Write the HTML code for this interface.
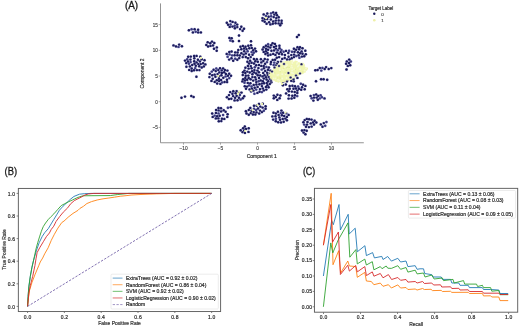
<!DOCTYPE html>
<html><head><meta charset="utf-8"><style>
html,body{margin:0;padding:0;background:#fff;width:520px;height:327px;overflow:hidden}
svg{display:block}
text{font-family:"Liberation Sans",sans-serif}
.t{fill:#262626;stroke:#262626;stroke-width:0.18px}
.L{fill:#1a1a1a;stroke:#1a1a1a;stroke-width:0.3px}
.tk{letter-spacing:0.2px}
.ta{fill:#404040;stroke:#404040;stroke-width:0.14px}
.ta2{fill:#2e2e2e;stroke:#2e2e2e;stroke-width:0.18px}
</style></head><body>
<svg width="520" height="327" viewBox="0 0 520 327">
<defs><filter id="bl" x="-5%" y="-5%" width="110%" height="110%"><feGaussianBlur stdDeviation="0.35"/></filter></defs>
<rect width="520" height="327" fill="#fff"/>
<g filter="url(#bl)">
<text x="124.9" y="9" font-size="10" class="L" textLength="13.2" lengthAdjust="spacingAndGlyphs">(A)</text>
<line x1="160.5" y1="3.4" x2="160.5" y2="142.8" stroke="#939393" stroke-width="1.05"/>
<line x1="160.5" y1="142.8" x2="363.8" y2="142.8" stroke="#939393" stroke-width="1.05"/>
<line x1="158.6" y1="24.60" x2="160.6" y2="24.60" stroke="#777" stroke-width="0.6"/>
<text x="157.9" y="26.60" font-size="4.6" class="ta" text-anchor="end">15</text>
<line x1="158.6" y1="50.30" x2="160.6" y2="50.30" stroke="#777" stroke-width="0.6"/>
<text x="157.9" y="52.30" font-size="4.6" class="ta" text-anchor="end">10</text>
<line x1="158.6" y1="76.00" x2="160.6" y2="76.00" stroke="#777" stroke-width="0.6"/>
<text x="157.9" y="78.00" font-size="4.6" class="ta" text-anchor="end">5</text>
<line x1="158.6" y1="101.70" x2="160.6" y2="101.70" stroke="#777" stroke-width="0.6"/>
<text x="157.9" y="103.70" font-size="4.6" class="ta" text-anchor="end">0</text>
<line x1="158.6" y1="127.40" x2="160.6" y2="127.40" stroke="#777" stroke-width="0.6"/>
<text x="157.9" y="129.40" font-size="4.6" class="ta" text-anchor="end">−5</text>
<line x1="183.50" y1="142.7" x2="183.50" y2="144.7" stroke="#777" stroke-width="0.6"/>
<text x="183.50" y="149.8" font-size="4.8" class="ta" text-anchor="middle">−10</text>
<line x1="220.50" y1="142.7" x2="220.50" y2="144.7" stroke="#777" stroke-width="0.6"/>
<text x="220.50" y="149.8" font-size="4.8" class="ta" text-anchor="middle">−5</text>
<line x1="257.50" y1="142.7" x2="257.50" y2="144.7" stroke="#777" stroke-width="0.6"/>
<text x="257.50" y="149.8" font-size="4.8" class="ta" text-anchor="middle">0</text>
<line x1="294.50" y1="142.7" x2="294.50" y2="144.7" stroke="#777" stroke-width="0.6"/>
<text x="294.50" y="149.8" font-size="4.8" class="ta" text-anchor="middle">5</text>
<line x1="331.50" y1="142.7" x2="331.50" y2="144.7" stroke="#777" stroke-width="0.6"/>
<text x="331.50" y="149.8" font-size="4.8" class="ta" text-anchor="middle">10</text>
<text x="261.7" y="158.2" font-size="5" class="ta2" text-anchor="middle">Component 1</text>
<text transform="translate(143.7,73.4) rotate(-90)" x="0" y="0" font-size="5" class="ta2" text-anchor="middle">Component 2</text>
<text x="368.6" y="9.6" font-size="4.5" class="ta2">Target Label</text>
<circle cx="374.3" cy="13.8" r="1.2" fill="#1b1b5c"/>
<text x="381.3" y="15.5" font-size="4.4" class="ta">0</text>
<circle cx="374.3" cy="20.2" r="1.3" fill="#eef0a8"/>
<text x="381.3" y="21.9" font-size="4.4" class="ta">1</text>
<g fill="#c4c4e4">
<circle cx="267.3" cy="13.5" r="1.6"/>
<circle cx="273.2" cy="12.4" r="1.6"/>
<circle cx="271.1" cy="16.3" r="1.6"/>
<circle cx="262.5" cy="18.1" r="1.6"/>
<circle cx="269.1" cy="22.2" r="1.6"/>
<circle cx="263.7" cy="14.4" r="1.6"/>
<circle cx="272.8" cy="23.8" r="1.6"/>
<circle cx="277.0" cy="15.3" r="1.6"/>
<circle cx="264.8" cy="19.1" r="1.6"/>
<circle cx="273.7" cy="17.1" r="1.6"/>
<circle cx="267.2" cy="19.1" r="1.6"/>
<circle cx="275.8" cy="20.6" r="1.6"/>
<circle cx="262.6" cy="20.6" r="1.6"/>
<circle cx="278.7" cy="20.5" r="1.6"/>
<circle cx="270.8" cy="19.5" r="1.6"/>
<circle cx="268.6" cy="16.7" r="1.6"/>
<circle cx="266.0" cy="16.0" r="1.6"/>
<circle cx="271.0" cy="13.4" r="1.6"/>
<circle cx="278.7" cy="17.3" r="1.6"/>
<circle cx="264.7" cy="21.8" r="1.6"/>
<circle cx="275.6" cy="23.2" r="1.6"/>
<circle cx="276.3" cy="18.1" r="1.6"/>
<circle cx="266.6" cy="23.7" r="1.6"/>
<circle cx="273.2" cy="21.4" r="1.6"/>
<circle cx="274.4" cy="14.6" r="1.6"/>
<circle cx="270.4" cy="24.4" r="1.6"/>
<circle cx="276.1" cy="12.9" r="1.6"/>
<circle cx="281.5" cy="23.3" r="1.6"/>
<circle cx="278.6" cy="23.4" r="1.6"/>
<circle cx="281.6" cy="20.7" r="1.6"/>
<circle cx="280.2" cy="25.3" r="1.6"/>
<circle cx="228.1" cy="24.8" r="1.6"/>
<circle cx="232.6" cy="21.9" r="1.6"/>
<circle cx="230.3" cy="21.1" r="1.6"/>
<circle cx="232.5" cy="26.6" r="1.6"/>
<circle cx="237.2" cy="24.6" r="1.6"/>
<circle cx="234.7" cy="25.7" r="1.6"/>
<circle cx="230.6" cy="24.5" r="1.6"/>
<circle cx="234.9" cy="28.3" r="1.6"/>
<circle cx="229.7" cy="26.9" r="1.6"/>
<circle cx="226.8" cy="22.8" r="1.6"/>
<circle cx="235.4" cy="22.7" r="1.6"/>
<circle cx="237.3" cy="27.1" r="1.6"/>
<circle cx="242.6" cy="30.8" r="1.6"/>
<circle cx="240.1" cy="29.1" r="1.6"/>
<circle cx="241.3" cy="26.7" r="1.6"/>
<circle cx="244.0" cy="28.7" r="1.6"/>
<circle cx="232.8" cy="41.2" r="1.6"/>
<circle cx="230.3" cy="40.5" r="1.6"/>
<circle cx="231.7" cy="38.3" r="1.6"/>
<circle cx="229.4" cy="37.9" r="1.6"/>
<circle cx="192.9" cy="32.4" r="1.6"/>
<circle cx="191.6" cy="29.2" r="1.6"/>
<circle cx="198.2" cy="32.4" r="1.6"/>
<circle cx="195.7" cy="31.8" r="1.6"/>
<circle cx="200.9" cy="32.4" r="1.6"/>
<circle cx="198.1" cy="29.8" r="1.6"/>
<circle cx="194.6" cy="29.2" r="1.6"/>
<circle cx="188.9" cy="30.3" r="1.6"/>
<circle cx="176.0" cy="46.4" r="1.6"/>
<circle cx="173.5" cy="45.4" r="1.6"/>
<circle cx="181.9" cy="46.2" r="1.6"/>
<circle cx="178.5" cy="46.9" r="1.6"/>
<circle cx="179.2" cy="44.6" r="1.6"/>
<circle cx="210.2" cy="43.2" r="1.6"/>
<circle cx="210.5" cy="45.9" r="1.6"/>
<circle cx="213.0" cy="45.4" r="1.6"/>
<circle cx="214.3" cy="43.0" r="1.6"/>
<circle cx="207.7" cy="42.3" r="1.6"/>
<circle cx="212.0" cy="41.6" r="1.6"/>
<circle cx="206.3" cy="44.9" r="1.6"/>
<circle cx="208.1" cy="46.5" r="1.6"/>
<circle cx="216.7" cy="50.7" r="1.6"/>
<circle cx="216.8" cy="47.4" r="1.6"/>
<circle cx="214.0" cy="48.7" r="1.6"/>
<circle cx="194.2" cy="61.2" r="1.6"/>
<circle cx="192.2" cy="65.0" r="1.6"/>
<circle cx="196.6" cy="55.9" r="1.6"/>
<circle cx="194.0" cy="70.2" r="1.6"/>
<circle cx="204.5" cy="60.2" r="1.6"/>
<circle cx="190.6" cy="62.1" r="1.6"/>
<circle cx="198.3" cy="64.1" r="1.6"/>
<circle cx="186.4" cy="66.8" r="1.6"/>
<circle cx="194.1" cy="55.9" r="1.6"/>
<circle cx="199.4" cy="70.1" r="1.6"/>
<circle cx="190.8" cy="56.6" r="1.6"/>
<circle cx="201.7" cy="67.5" r="1.6"/>
<circle cx="189.9" cy="66.4" r="1.6"/>
<circle cx="197.9" cy="59.7" r="1.6"/>
<circle cx="187.2" cy="59.2" r="1.6"/>
<circle cx="195.8" cy="65.8" r="1.6"/>
<circle cx="186.2" cy="63.1" r="1.6"/>
<circle cx="190.4" cy="59.6" r="1.6"/>
<circle cx="203.1" cy="63.3" r="1.6"/>
<circle cx="196.9" cy="70.1" r="1.6"/>
<circle cx="194.5" cy="63.7" r="1.6"/>
<circle cx="199.2" cy="66.3" r="1.6"/>
<circle cx="201.7" cy="59.3" r="1.6"/>
<circle cx="199.9" cy="61.4" r="1.6"/>
<circle cx="189.2" cy="69.9" r="1.6"/>
<circle cx="200.3" cy="56.7" r="1.6"/>
<circle cx="203.8" cy="66.4" r="1.6"/>
<circle cx="188.9" cy="63.8" r="1.6"/>
<circle cx="196.6" cy="62.4" r="1.6"/>
<circle cx="200.7" cy="64.1" r="1.6"/>
<circle cx="194.3" cy="58.3" r="1.6"/>
<circle cx="191.7" cy="68.5" r="1.6"/>
<circle cx="205.4" cy="64.4" r="1.6"/>
<circle cx="195.2" cy="68.1" r="1.6"/>
<circle cx="188.0" cy="61.5" r="1.6"/>
<circle cx="185.0" cy="60.6" r="1.6"/>
<circle cx="188.2" cy="56.8" r="1.6"/>
<circle cx="191.7" cy="71.0" r="1.6"/>
<circle cx="211.8" cy="71.6" r="1.6"/>
<circle cx="229.2" cy="73.7" r="1.6"/>
<circle cx="222.2" cy="82.4" r="1.6"/>
<circle cx="218.9" cy="78.7" r="1.6"/>
<circle cx="221.9" cy="72.9" r="1.6"/>
<circle cx="217.2" cy="83.5" r="1.6"/>
<circle cx="221.7" cy="70.4" r="1.6"/>
<circle cx="215.8" cy="71.1" r="1.6"/>
<circle cx="229.3" cy="78.1" r="1.6"/>
<circle cx="221.4" cy="75.3" r="1.6"/>
<circle cx="216.8" cy="80.3" r="1.6"/>
<circle cx="227.0" cy="79.7" r="1.6"/>
<circle cx="214.7" cy="81.9" r="1.6"/>
<circle cx="223.3" cy="77.8" r="1.6"/>
<circle cx="214.6" cy="74.6" r="1.6"/>
<circle cx="209.4" cy="77.1" r="1.6"/>
<circle cx="225.9" cy="73.9" r="1.6"/>
<circle cx="231.0" cy="75.8" r="1.6"/>
<circle cx="209.8" cy="73.8" r="1.6"/>
<circle cx="218.3" cy="70.1" r="1.6"/>
<circle cx="211.5" cy="80.9" r="1.6"/>
<circle cx="224.9" cy="70.0" r="1.6"/>
<circle cx="212.2" cy="75.2" r="1.6"/>
<circle cx="225.6" cy="76.4" r="1.6"/>
<circle cx="219.0" cy="76.2" r="1.6"/>
<circle cx="212.7" cy="78.8" r="1.6"/>
<circle cx="217.6" cy="74.1" r="1.6"/>
<circle cx="215.4" cy="76.8" r="1.6"/>
<circle cx="224.6" cy="82.0" r="1.6"/>
<circle cx="227.4" cy="70.6" r="1.6"/>
<circle cx="219.4" cy="72.4" r="1.6"/>
<circle cx="219.1" cy="81.1" r="1.6"/>
<circle cx="213.6" cy="69.8" r="1.6"/>
<circle cx="221.1" cy="80.0" r="1.6"/>
<circle cx="227.9" cy="75.7" r="1.6"/>
<circle cx="216.3" cy="68.5" r="1.6"/>
<circle cx="220.4" cy="83.9" r="1.6"/>
<circle cx="223.1" cy="68.4" r="1.6"/>
<circle cx="227.1" cy="82.1" r="1.6"/>
<circle cx="224.2" cy="72.3" r="1.6"/>
<circle cx="220.0" cy="68.3" r="1.6"/>
<circle cx="235.2" cy="52.4" r="1.6"/>
<circle cx="235.2" cy="58.7" r="1.6"/>
<circle cx="229.2" cy="59.6" r="1.6"/>
<circle cx="227.6" cy="56.8" r="1.6"/>
<circle cx="231.5" cy="58.3" r="1.6"/>
<circle cx="237.3" cy="59.8" r="1.6"/>
<circle cx="234.6" cy="55.3" r="1.6"/>
<circle cx="231.6" cy="51.5" r="1.6"/>
<circle cx="237.4" cy="55.2" r="1.6"/>
<circle cx="229.5" cy="54.4" r="1.6"/>
<circle cx="226.7" cy="53.9" r="1.6"/>
<circle cx="239.2" cy="58.1" r="1.6"/>
<circle cx="237.6" cy="52.5" r="1.6"/>
<circle cx="232.1" cy="55.4" r="1.6"/>
<circle cx="233.2" cy="60.7" r="1.6"/>
<circle cx="229.3" cy="52.0" r="1.6"/>
<circle cx="239.8" cy="55.5" r="1.6"/>
<circle cx="247.6" cy="51.2" r="1.6"/>
<circle cx="248.0" cy="58.3" r="1.6"/>
<circle cx="243.6" cy="54.6" r="1.6"/>
<circle cx="253.8" cy="52.8" r="1.6"/>
<circle cx="241.3" cy="49.2" r="1.6"/>
<circle cx="245.5" cy="46.7" r="1.6"/>
<circle cx="248.3" cy="45.7" r="1.6"/>
<circle cx="255.0" cy="48.6" r="1.6"/>
<circle cx="250.7" cy="57.1" r="1.6"/>
<circle cx="251.8" cy="47.9" r="1.6"/>
<circle cx="245.8" cy="57.0" r="1.6"/>
<circle cx="244.0" cy="48.5" r="1.6"/>
<circle cx="241.4" cy="53.2" r="1.6"/>
<circle cx="245.8" cy="53.4" r="1.6"/>
<circle cx="242.9" cy="45.9" r="1.6"/>
<circle cx="251.6" cy="52.1" r="1.6"/>
<circle cx="249.3" cy="48.2" r="1.6"/>
<circle cx="252.5" cy="54.7" r="1.6"/>
<circle cx="253.2" cy="50.3" r="1.6"/>
<circle cx="249.1" cy="54.7" r="1.6"/>
<circle cx="242.7" cy="57.1" r="1.6"/>
<circle cx="244.2" cy="51.2" r="1.6"/>
<circle cx="240.5" cy="46.7" r="1.6"/>
<circle cx="238.3" cy="50.0" r="1.6"/>
<circle cx="251.0" cy="45.3" r="1.6"/>
<circle cx="256.0" cy="51.3" r="1.6"/>
<circle cx="246.5" cy="49.1" r="1.6"/>
<circle cx="273.9" cy="47.0" r="1.6"/>
<circle cx="270.5" cy="54.7" r="1.6"/>
<circle cx="270.3" cy="47.6" r="1.6"/>
<circle cx="263.7" cy="51.9" r="1.6"/>
<circle cx="279.5" cy="48.2" r="1.6"/>
<circle cx="277.8" cy="50.2" r="1.6"/>
<circle cx="271.1" cy="45.2" r="1.6"/>
<circle cx="279.0" cy="53.8" r="1.6"/>
<circle cx="274.1" cy="50.4" r="1.6"/>
<circle cx="276.1" cy="46.1" r="1.6"/>
<circle cx="271.4" cy="50.8" r="1.6"/>
<circle cx="267.5" cy="53.0" r="1.6"/>
<circle cx="268.1" cy="44.2" r="1.6"/>
<circle cx="273.2" cy="53.9" r="1.6"/>
<circle cx="280.7" cy="52.1" r="1.6"/>
<circle cx="275.4" cy="54.9" r="1.6"/>
<circle cx="274.9" cy="43.9" r="1.6"/>
<circle cx="276.9" cy="52.6" r="1.6"/>
<circle cx="268.2" cy="46.6" r="1.6"/>
<circle cx="279.4" cy="45.7" r="1.6"/>
<circle cx="263.7" cy="47.2" r="1.6"/>
<circle cx="281.4" cy="49.9" r="1.6"/>
<circle cx="268.1" cy="49.8" r="1.6"/>
<circle cx="266.0" cy="48.7" r="1.6"/>
<circle cx="275.9" cy="48.6" r="1.6"/>
<circle cx="265.9" cy="45.7" r="1.6"/>
<circle cx="265.4" cy="54.0" r="1.6"/>
<circle cx="265.9" cy="51.2" r="1.6"/>
<circle cx="268.1" cy="55.4" r="1.6"/>
<circle cx="272.6" cy="43.3" r="1.6"/>
<circle cx="262.6" cy="49.5" r="1.6"/>
<circle cx="258.6" cy="81.3" r="1.6"/>
<circle cx="253.2" cy="80.6" r="1.6"/>
<circle cx="253.5" cy="90.6" r="1.6"/>
<circle cx="250.8" cy="66.1" r="1.6"/>
<circle cx="264.0" cy="83.3" r="1.6"/>
<circle cx="243.1" cy="79.2" r="1.6"/>
<circle cx="268.6" cy="87.3" r="1.6"/>
<circle cx="257.6" cy="86.9" r="1.6"/>
<circle cx="270.0" cy="73.4" r="1.6"/>
<circle cx="249.6" cy="89.4" r="1.6"/>
<circle cx="245.3" cy="78.0" r="1.6"/>
<circle cx="261.7" cy="69.6" r="1.6"/>
<circle cx="258.4" cy="68.1" r="1.6"/>
<circle cx="270.3" cy="76.7" r="1.6"/>
<circle cx="244.5" cy="70.6" r="1.6"/>
<circle cx="265.1" cy="63.8" r="1.6"/>
<circle cx="247.9" cy="65.9" r="1.6"/>
<circle cx="256.2" cy="73.5" r="1.6"/>
<circle cx="254.4" cy="70.1" r="1.6"/>
<circle cx="260.7" cy="80.4" r="1.6"/>
<circle cx="261.9" cy="86.1" r="1.6"/>
<circle cx="249.7" cy="72.5" r="1.6"/>
<circle cx="244.8" cy="86.2" r="1.6"/>
<circle cx="267.2" cy="72.8" r="1.6"/>
<circle cx="266.6" cy="79.5" r="1.6"/>
<circle cx="252.4" cy="77.1" r="1.6"/>
<circle cx="268.0" cy="69.7" r="1.6"/>
<circle cx="259.0" cy="78.0" r="1.6"/>
<circle cx="271.3" cy="82.2" r="1.6"/>
<circle cx="262.5" cy="76.4" r="1.6"/>
<circle cx="247.2" cy="79.7" r="1.6"/>
<circle cx="247.1" cy="86.6" r="1.6"/>
<circle cx="252.4" cy="74.3" r="1.6"/>
<circle cx="253.7" cy="84.9" r="1.6"/>
<circle cx="261.9" cy="92.1" r="1.6"/>
<circle cx="259.6" cy="91.7" r="1.6"/>
<circle cx="257.8" cy="61.8" r="1.6"/>
<circle cx="256.3" cy="82.1" r="1.6"/>
<circle cx="263.8" cy="78.6" r="1.6"/>
<circle cx="248.6" cy="68.6" r="1.6"/>
<circle cx="260.0" cy="89.1" r="1.6"/>
<circle cx="263.8" cy="90.4" r="1.6"/>
<circle cx="264.5" cy="75.2" r="1.6"/>
<circle cx="251.9" cy="88.7" r="1.6"/>
<circle cx="261.3" cy="65.9" r="1.6"/>
<circle cx="256.4" cy="84.5" r="1.6"/>
<circle cx="261.3" cy="62.4" r="1.6"/>
<circle cx="266.8" cy="82.9" r="1.6"/>
<circle cx="243.0" cy="72.3" r="1.6"/>
<circle cx="251.1" cy="91.4" r="1.6"/>
<circle cx="250.6" cy="79.2" r="1.6"/>
<circle cx="249.1" cy="85.4" r="1.6"/>
<circle cx="258.9" cy="72.3" r="1.6"/>
<circle cx="254.8" cy="67.3" r="1.6"/>
<circle cx="247.3" cy="71.6" r="1.6"/>
<circle cx="254.0" cy="63.5" r="1.6"/>
<circle cx="250.4" cy="83.3" r="1.6"/>
<circle cx="248.3" cy="75.6" r="1.6"/>
<circle cx="256.2" cy="89.6" r="1.6"/>
<circle cx="269.8" cy="84.0" r="1.6"/>
<circle cx="266.3" cy="89.6" r="1.6"/>
<circle cx="255.1" cy="77.2" r="1.6"/>
<circle cx="252.1" cy="71.2" r="1.6"/>
<circle cx="266.4" cy="66.9" r="1.6"/>
<circle cx="257.8" cy="75.3" r="1.6"/>
<circle cx="259.4" cy="84.3" r="1.6"/>
<circle cx="267.6" cy="75.1" r="1.6"/>
<circle cx="263.9" cy="68.3" r="1.6"/>
<circle cx="242.8" cy="75.0" r="1.6"/>
<circle cx="265.9" cy="86.9" r="1.6"/>
<circle cx="245.3" cy="73.0" r="1.6"/>
<circle cx="259.0" cy="65.0" r="1.6"/>
<circle cx="251.6" cy="68.3" r="1.6"/>
<circle cx="269.7" cy="78.9" r="1.6"/>
<circle cx="254.4" cy="93.7" r="1.6"/>
<circle cx="263.2" cy="72.9" r="1.6"/>
<circle cx="245.4" cy="67.7" r="1.6"/>
<circle cx="249.1" cy="63.5" r="1.6"/>
<circle cx="244.5" cy="82.7" r="1.6"/>
<circle cx="256.2" cy="65.2" r="1.6"/>
<circle cx="251.6" cy="62.7" r="1.6"/>
<circle cx="247.8" cy="82.9" r="1.6"/>
<circle cx="255.9" cy="79.5" r="1.6"/>
<circle cx="266.0" cy="77.3" r="1.6"/>
<circle cx="257.4" cy="92.9" r="1.6"/>
<circle cx="262.9" cy="81.3" r="1.6"/>
<circle cx="260.2" cy="75.5" r="1.6"/>
<circle cx="265.2" cy="70.9" r="1.6"/>
<circle cx="254.7" cy="87.7" r="1.6"/>
<circle cx="268.3" cy="81.2" r="1.6"/>
<circle cx="261.8" cy="83.6" r="1.6"/>
<circle cx="245.8" cy="75.7" r="1.6"/>
<circle cx="271.9" cy="78.8" r="1.6"/>
<circle cx="270.4" cy="70.6" r="1.6"/>
<circle cx="268.9" cy="67.5" r="1.6"/>
<circle cx="267.4" cy="85.2" r="1.6"/>
<circle cx="257.4" cy="70.6" r="1.6"/>
<circle cx="262.8" cy="88.4" r="1.6"/>
<circle cx="254.2" cy="72.4" r="1.6"/>
<circle cx="271.8" cy="74.8" r="1.6"/>
<circle cx="263.7" cy="65.9" r="1.6"/>
<circle cx="251.5" cy="86.5" r="1.6"/>
<circle cx="255.3" cy="61.3" r="1.6"/>
<circle cx="246.0" cy="88.7" r="1.6"/>
<circle cx="248.7" cy="77.9" r="1.6"/>
<circle cx="242.4" cy="81.4" r="1.6"/>
<circle cx="245.0" cy="80.4" r="1.6"/>
<circle cx="256.8" cy="59.2" r="1.6"/>
<circle cx="267.6" cy="59.6" r="1.6"/>
<circle cx="260.9" cy="59.2" r="1.6"/>
<circle cx="250.1" cy="60.8" r="1.6"/>
<circle cx="263.3" cy="61.0" r="1.6"/>
<circle cx="253.9" cy="59.0" r="1.6"/>
<circle cx="264.8" cy="59.0" r="1.6"/>
<circle cx="267.0" cy="62.1" r="1.6"/>
<circle cx="247.4" cy="61.8" r="1.6"/>
<circle cx="273.7" cy="65.0" r="1.6"/>
<circle cx="274.3" cy="62.6" r="1.6"/>
<circle cx="271.0" cy="61.9" r="1.6"/>
<circle cx="277.9" cy="61.9" r="1.6"/>
<circle cx="276.3" cy="65.1" r="1.6"/>
<circle cx="270.7" cy="64.1" r="1.6"/>
<circle cx="275.1" cy="59.7" r="1.6"/>
<circle cx="272.7" cy="59.9" r="1.6"/>
<circle cx="288.3" cy="53.0" r="1.6"/>
<circle cx="289.1" cy="50.8" r="1.6"/>
<circle cx="288.6" cy="56.8" r="1.6"/>
<circle cx="291.7" cy="58.3" r="1.6"/>
<circle cx="279.1" cy="57.1" r="1.6"/>
<circle cx="294.1" cy="54.6" r="1.6"/>
<circle cx="293.9" cy="57.1" r="1.6"/>
<circle cx="287.1" cy="59.5" r="1.6"/>
<circle cx="284.7" cy="58.0" r="1.6"/>
<circle cx="282.2" cy="58.9" r="1.6"/>
<circle cx="284.9" cy="55.0" r="1.6"/>
<circle cx="283.6" cy="51.7" r="1.6"/>
<circle cx="292.0" cy="51.8" r="1.6"/>
<circle cx="291.3" cy="55.1" r="1.6"/>
<circle cx="282.0" cy="54.3" r="1.6"/>
<circle cx="286.0" cy="50.9" r="1.6"/>
<circle cx="276.8" cy="57.7" r="1.6"/>
<circle cx="289.7" cy="59.5" r="1.6"/>
<circle cx="296.3" cy="56.0" r="1.6"/>
<circle cx="300.0" cy="47.2" r="1.6"/>
<circle cx="298.6" cy="55.3" r="1.6"/>
<circle cx="296.1" cy="49.7" r="1.6"/>
<circle cx="293.9" cy="48.7" r="1.6"/>
<circle cx="299.4" cy="57.7" r="1.6"/>
<circle cx="302.5" cy="53.7" r="1.6"/>
<circle cx="305.3" cy="50.7" r="1.6"/>
<circle cx="297.9" cy="52.2" r="1.6"/>
<circle cx="301.9" cy="56.6" r="1.6"/>
<circle cx="301.6" cy="51.4" r="1.6"/>
<circle cx="299.1" cy="49.3" r="1.6"/>
<circle cx="305.8" cy="54.3" r="1.6"/>
<circle cx="297.5" cy="47.2" r="1.6"/>
<circle cx="302.5" cy="48.3" r="1.6"/>
<circle cx="294.5" cy="51.8" r="1.6"/>
<circle cx="304.2" cy="56.3" r="1.6"/>
<circle cx="300.1" cy="53.3" r="1.6"/>
<circle cx="288.9" cy="95.3" r="1.6"/>
<circle cx="288.8" cy="91.2" r="1.6"/>
<circle cx="292.4" cy="85.8" r="1.6"/>
<circle cx="291.6" cy="98.5" r="1.6"/>
<circle cx="288.6" cy="98.6" r="1.6"/>
<circle cx="287.3" cy="89.3" r="1.6"/>
<circle cx="291.9" cy="91.6" r="1.6"/>
<circle cx="292.3" cy="95.8" r="1.6"/>
<circle cx="296.0" cy="88.5" r="1.6"/>
<circle cx="293.5" cy="88.7" r="1.6"/>
<circle cx="294.7" cy="92.0" r="1.6"/>
<circle cx="297.3" cy="93.0" r="1.6"/>
<circle cx="294.3" cy="97.7" r="1.6"/>
<circle cx="289.7" cy="88.7" r="1.6"/>
<circle cx="286.1" cy="93.4" r="1.6"/>
<circle cx="295.0" cy="95.2" r="1.6"/>
<circle cx="297.4" cy="90.6" r="1.6"/>
<circle cx="289.7" cy="86.0" r="1.6"/>
<circle cx="295.0" cy="86.2" r="1.6"/>
<circle cx="297.2" cy="96.1" r="1.6"/>
<circle cx="305.4" cy="85.9" r="1.6"/>
<circle cx="302.0" cy="87.2" r="1.6"/>
<circle cx="300.8" cy="83.8" r="1.6"/>
<circle cx="301.2" cy="89.7" r="1.6"/>
<circle cx="298.1" cy="86.5" r="1.6"/>
<circle cx="304.7" cy="89.2" r="1.6"/>
<circle cx="303.1" cy="84.7" r="1.6"/>
<circle cx="299.0" cy="88.7" r="1.6"/>
<circle cx="287.4" cy="80.0" r="1.6"/>
<circle cx="291.7" cy="76.1" r="1.6"/>
<circle cx="294.7" cy="76.1" r="1.6"/>
<circle cx="297.4" cy="77.9" r="1.6"/>
<circle cx="291.2" cy="80.8" r="1.6"/>
<circle cx="293.5" cy="78.6" r="1.6"/>
<circle cx="285.6" cy="76.5" r="1.6"/>
<circle cx="293.7" cy="81.3" r="1.6"/>
<circle cx="285.8" cy="84.5" r="1.6"/>
<circle cx="282.5" cy="82.1" r="1.6"/>
<circle cx="284.9" cy="81.0" r="1.6"/>
<circle cx="282.9" cy="85.3" r="1.6"/>
<circle cx="321.3" cy="70.6" r="1.6"/>
<circle cx="322.4" cy="67.9" r="1.6"/>
<circle cx="331.3" cy="68.1" r="1.6"/>
<circle cx="328.7" cy="69.0" r="1.6"/>
<circle cx="317.6" cy="70.0" r="1.6"/>
<circle cx="324.7" cy="69.0" r="1.6"/>
<circle cx="315.3" cy="70.3" r="1.6"/>
<circle cx="319.8" cy="68.0" r="1.6"/>
<circle cx="326.1" cy="67.1" r="1.6"/>
<circle cx="327.2" cy="79.8" r="1.6"/>
<circle cx="323.6" cy="79.2" r="1.6"/>
<circle cx="321.1" cy="79.2" r="1.6"/>
<circle cx="349.2" cy="59.6" r="1.6"/>
<circle cx="349.0" cy="63.0" r="1.6"/>
<circle cx="347.8" cy="65.9" r="1.6"/>
<circle cx="346.8" cy="61.4" r="1.6"/>
<circle cx="350.2" cy="65.2" r="1.6"/>
<circle cx="346.1" cy="63.7" r="1.6"/>
<circle cx="350.8" cy="61.5" r="1.6"/>
<circle cx="240.6" cy="99.5" r="1.6"/>
<circle cx="235.6" cy="93.3" r="1.6"/>
<circle cx="237.5" cy="100.3" r="1.6"/>
<circle cx="239.9" cy="95.0" r="1.6"/>
<circle cx="226.9" cy="97.2" r="1.6"/>
<circle cx="233.1" cy="96.1" r="1.6"/>
<circle cx="235.1" cy="97.7" r="1.6"/>
<circle cx="239.1" cy="92.2" r="1.6"/>
<circle cx="229.0" cy="95.1" r="1.6"/>
<circle cx="231.3" cy="98.8" r="1.6"/>
<circle cx="238.9" cy="97.7" r="1.6"/>
<circle cx="236.7" cy="95.8" r="1.6"/>
<circle cx="241.5" cy="92.6" r="1.6"/>
<circle cx="233.3" cy="91.2" r="1.6"/>
<circle cx="244.2" cy="96.2" r="1.6"/>
<circle cx="242.8" cy="98.2" r="1.6"/>
<circle cx="230.2" cy="92.1" r="1.6"/>
<circle cx="228.9" cy="99.0" r="1.6"/>
<circle cx="234.6" cy="100.4" r="1.6"/>
<circle cx="232.4" cy="93.7" r="1.6"/>
<circle cx="236.6" cy="91.1" r="1.6"/>
<circle cx="277.4" cy="94.8" r="1.6"/>
<circle cx="277.3" cy="99.9" r="1.6"/>
<circle cx="273.8" cy="98.3" r="1.6"/>
<circle cx="279.6" cy="98.2" r="1.6"/>
<circle cx="273.8" cy="95.6" r="1.6"/>
<circle cx="275.8" cy="97.0" r="1.6"/>
<circle cx="280.4" cy="95.5" r="1.6"/>
<circle cx="246.5" cy="113.5" r="1.6"/>
<circle cx="256.5" cy="112.4" r="1.6"/>
<circle cx="254.0" cy="108.8" r="1.6"/>
<circle cx="258.0" cy="108.5" r="1.6"/>
<circle cx="265.6" cy="108.7" r="1.6"/>
<circle cx="263.8" cy="110.7" r="1.6"/>
<circle cx="260.3" cy="106.6" r="1.6"/>
<circle cx="256.7" cy="105.7" r="1.6"/>
<circle cx="262.6" cy="107.6" r="1.6"/>
<circle cx="248.8" cy="110.0" r="1.6"/>
<circle cx="260.0" cy="110.6" r="1.6"/>
<circle cx="250.7" cy="113.1" r="1.6"/>
<circle cx="251.5" cy="110.8" r="1.6"/>
<circle cx="252.9" cy="114.5" r="1.6"/>
<circle cx="262.7" cy="103.7" r="1.6"/>
<circle cx="254.0" cy="105.8" r="1.6"/>
<circle cx="250.3" cy="107.9" r="1.6"/>
<circle cx="265.6" cy="106.3" r="1.6"/>
<circle cx="259.0" cy="103.9" r="1.6"/>
<circle cx="253.7" cy="112.1" r="1.6"/>
<circle cx="259.2" cy="113.5" r="1.6"/>
<circle cx="255.3" cy="114.5" r="1.6"/>
<circle cx="261.9" cy="112.1" r="1.6"/>
<circle cx="248.8" cy="114.8" r="1.6"/>
<circle cx="245.9" cy="111.2" r="1.6"/>
<circle cx="256.1" cy="110.0" r="1.6"/>
<circle cx="218.4" cy="118.4" r="1.6"/>
<circle cx="225.6" cy="111.8" r="1.6"/>
<circle cx="227.6" cy="114.3" r="1.6"/>
<circle cx="217.1" cy="116.2" r="1.6"/>
<circle cx="218.6" cy="110.4" r="1.6"/>
<circle cx="221.9" cy="118.7" r="1.6"/>
<circle cx="218.5" cy="113.4" r="1.6"/>
<circle cx="218.8" cy="121.3" r="1.6"/>
<circle cx="212.7" cy="116.9" r="1.6"/>
<circle cx="227.3" cy="116.9" r="1.6"/>
<circle cx="223.1" cy="115.0" r="1.6"/>
<circle cx="221.0" cy="108.2" r="1.6"/>
<circle cx="215.9" cy="112.9" r="1.6"/>
<circle cx="212.2" cy="113.5" r="1.6"/>
<circle cx="221.3" cy="121.1" r="1.6"/>
<circle cx="215.8" cy="118.4" r="1.6"/>
<circle cx="221.1" cy="111.4" r="1.6"/>
<circle cx="224.3" cy="118.9" r="1.6"/>
<circle cx="223.7" cy="110.2" r="1.6"/>
<circle cx="216.1" cy="110.0" r="1.6"/>
<circle cx="219.7" cy="115.8" r="1.6"/>
<circle cx="214.7" cy="115.6" r="1.6"/>
<circle cx="218.5" cy="107.9" r="1.6"/>
<circle cx="230.8" cy="107.2" r="1.6"/>
<circle cx="227.9" cy="107.8" r="1.6"/>
<circle cx="272.4" cy="116.4" r="1.6"/>
<circle cx="286.2" cy="113.3" r="1.6"/>
<circle cx="285.3" cy="118.6" r="1.6"/>
<circle cx="279.4" cy="117.4" r="1.6"/>
<circle cx="278.6" cy="115.0" r="1.6"/>
<circle cx="282.7" cy="118.9" r="1.6"/>
<circle cx="283.1" cy="112.7" r="1.6"/>
<circle cx="275.5" cy="116.3" r="1.6"/>
<circle cx="280.8" cy="113.1" r="1.6"/>
<circle cx="273.5" cy="112.7" r="1.6"/>
<circle cx="284.2" cy="116.0" r="1.6"/>
<circle cx="280.0" cy="119.8" r="1.6"/>
<circle cx="273.2" cy="119.6" r="1.6"/>
<circle cx="275.9" cy="113.5" r="1.6"/>
<circle cx="277.9" cy="111.8" r="1.6"/>
<circle cx="275.9" cy="118.8" r="1.6"/>
<circle cx="286.9" cy="116.9" r="1.6"/>
<circle cx="278.2" cy="122.2" r="1.6"/>
<circle cx="281.9" cy="115.3" r="1.6"/>
<circle cx="283.7" cy="121.8" r="1.6"/>
<circle cx="275.8" cy="121.2" r="1.6"/>
<circle cx="288.6" cy="114.9" r="1.6"/>
<circle cx="281.0" cy="122.4" r="1.6"/>
<circle cx="281.4" cy="110.6" r="1.6"/>
<circle cx="286.9" cy="120.3" r="1.6"/>
<circle cx="244.2" cy="130.4" r="1.6"/>
<circle cx="248.5" cy="131.9" r="1.6"/>
<circle cx="243.1" cy="128.3" r="1.6"/>
<circle cx="246.0" cy="128.9" r="1.6"/>
<circle cx="248.7" cy="128.3" r="1.6"/>
<circle cx="244.9" cy="132.9" r="1.6"/>
<circle cx="242.4" cy="132.1" r="1.6"/>
<circle cx="240.7" cy="130.3" r="1.6"/>
<circle cx="244.8" cy="126.5" r="1.6"/>
<circle cx="316.2" cy="94.5" r="1.6"/>
<circle cx="311.7" cy="98.3" r="1.6"/>
<circle cx="321.9" cy="97.3" r="1.6"/>
<circle cx="314.0" cy="97.6" r="1.6"/>
<circle cx="313.9" cy="95.1" r="1.6"/>
<circle cx="317.8" cy="99.8" r="1.6"/>
<circle cx="318.2" cy="95.9" r="1.6"/>
<circle cx="319.7" cy="98.4" r="1.6"/>
<circle cx="313.4" cy="100.6" r="1.6"/>
<circle cx="310.6" cy="96.0" r="1.6"/>
<circle cx="320.6" cy="95.3" r="1.6"/>
<circle cx="316.6" cy="97.6" r="1.6"/>
<circle cx="310.7" cy="123.4" r="1.6"/>
<circle cx="304.2" cy="124.6" r="1.6"/>
<circle cx="309.1" cy="119.2" r="1.6"/>
<circle cx="307.5" cy="122.0" r="1.6"/>
<circle cx="314.6" cy="120.7" r="1.6"/>
<circle cx="314.0" cy="124.5" r="1.6"/>
<circle cx="311.5" cy="119.6" r="1.6"/>
<circle cx="308.9" cy="127.1" r="1.6"/>
<circle cx="303.4" cy="122.2" r="1.6"/>
<circle cx="306.8" cy="118.9" r="1.6"/>
<circle cx="307.0" cy="124.6" r="1.6"/>
<circle cx="316.3" cy="122.5" r="1.6"/>
<circle cx="311.6" cy="126.6" r="1.6"/>
<circle cx="306.0" cy="126.8" r="1.6"/>
<circle cx="304.7" cy="120.1" r="1.6"/>
<circle cx="313.0" cy="122.4" r="1.6"/>
<circle cx="323.8" cy="123.1" r="1.6"/>
<circle cx="320.8" cy="124.4" r="1.6"/>
<circle cx="322.5" cy="126.7" r="1.6"/>
<circle cx="326.4" cy="122.0" r="1.6"/>
<circle cx="325.2" cy="125.8" r="1.6"/>
<circle cx="303.6" cy="132.6" r="1.6"/>
<circle cx="305.4" cy="134.2" r="1.6"/>
<circle cx="306.7" cy="130.8" r="1.6"/>
<circle cx="302.0" cy="130.5" r="1.6"/>
<circle cx="304.4" cy="130.1" r="1.6"/>
<circle cx="239.0" cy="35.5" r="1.6"/>
<circle cx="239.0" cy="41.0" r="1.6"/>
<circle cx="251.0" cy="41.3" r="1.6"/>
<circle cx="196.4" cy="76.7" r="1.6"/>
<circle cx="316.0" cy="81.2" r="1.6"/>
<circle cx="297.0" cy="37.0" r="1.6"/>
<circle cx="298.8" cy="35.0" r="1.6"/>
<circle cx="181.5" cy="97.8" r="1.6"/>
<circle cx="185.0" cy="96.6" r="1.6"/>
<circle cx="191.3" cy="96.0" r="1.6"/>
<circle cx="193.6" cy="97.0" r="1.6"/>
<circle cx="324.5" cy="98.4" r="1.6"/>
<circle cx="346.5" cy="69.5" r="1.6"/>
</g>
<g fill="#3a3a80">
<circle cx="271.1" cy="16.3" r="1.22"/>
<circle cx="266.0" cy="16.0" r="1.22"/>
<circle cx="271.0" cy="13.4" r="1.22"/>
<circle cx="234.7" cy="25.7" r="1.22"/>
<circle cx="230.6" cy="24.5" r="1.22"/>
<circle cx="230.3" cy="40.5" r="1.22"/>
<circle cx="191.6" cy="29.2" r="1.22"/>
<circle cx="195.7" cy="31.8" r="1.22"/>
<circle cx="178.5" cy="46.9" r="1.22"/>
<circle cx="190.6" cy="62.1" r="1.22"/>
<circle cx="187.2" cy="59.2" r="1.22"/>
<circle cx="188.9" cy="63.8" r="1.22"/>
<circle cx="195.2" cy="68.1" r="1.22"/>
<circle cx="211.8" cy="71.6" r="1.22"/>
<circle cx="222.2" cy="82.4" r="1.22"/>
<circle cx="229.3" cy="78.1" r="1.22"/>
<circle cx="225.6" cy="76.4" r="1.22"/>
<circle cx="216.3" cy="68.5" r="1.22"/>
<circle cx="235.2" cy="58.7" r="1.22"/>
<circle cx="227.6" cy="56.8" r="1.22"/>
<circle cx="229.5" cy="54.4" r="1.22"/>
<circle cx="232.1" cy="55.4" r="1.22"/>
<circle cx="247.6" cy="51.2" r="1.22"/>
<circle cx="253.8" cy="52.8" r="1.22"/>
<circle cx="251.6" cy="52.1" r="1.22"/>
<circle cx="277.8" cy="50.2" r="1.22"/>
<circle cx="268.1" cy="44.2" r="1.22"/>
<circle cx="281.4" cy="49.9" r="1.22"/>
<circle cx="258.6" cy="81.3" r="1.22"/>
<circle cx="261.7" cy="69.6" r="1.22"/>
<circle cx="261.9" cy="92.1" r="1.22"/>
<circle cx="249.1" cy="85.4" r="1.22"/>
<circle cx="254.8" cy="67.3" r="1.22"/>
<circle cx="256.2" cy="89.6" r="1.22"/>
<circle cx="266.4" cy="66.9" r="1.22"/>
<circle cx="269.7" cy="78.9" r="1.22"/>
<circle cx="254.4" cy="93.7" r="1.22"/>
<circle cx="244.5" cy="82.7" r="1.22"/>
<circle cx="271.8" cy="74.8" r="1.22"/>
<circle cx="251.5" cy="86.5" r="1.22"/>
<circle cx="267.0" cy="62.1" r="1.22"/>
<circle cx="273.7" cy="65.0" r="1.22"/>
<circle cx="274.3" cy="62.6" r="1.22"/>
<circle cx="289.1" cy="50.8" r="1.22"/>
<circle cx="283.6" cy="51.7" r="1.22"/>
<circle cx="292.0" cy="51.8" r="1.22"/>
<circle cx="296.3" cy="56.0" r="1.22"/>
<circle cx="299.4" cy="57.7" r="1.22"/>
<circle cx="297.2" cy="96.1" r="1.22"/>
<circle cx="300.8" cy="83.8" r="1.22"/>
<circle cx="298.1" cy="86.5" r="1.22"/>
<circle cx="321.3" cy="70.6" r="1.22"/>
<circle cx="322.4" cy="67.9" r="1.22"/>
<circle cx="350.8" cy="61.5" r="1.22"/>
<circle cx="240.6" cy="99.5" r="1.22"/>
<circle cx="239.9" cy="95.0" r="1.22"/>
<circle cx="254.0" cy="108.8" r="1.22"/>
<circle cx="263.8" cy="110.7" r="1.22"/>
<circle cx="256.1" cy="110.0" r="1.22"/>
<circle cx="218.5" cy="113.4" r="1.22"/>
<circle cx="223.1" cy="115.0" r="1.22"/>
<circle cx="214.7" cy="115.6" r="1.22"/>
<circle cx="227.9" cy="107.8" r="1.22"/>
<circle cx="286.2" cy="113.3" r="1.22"/>
<circle cx="280.8" cy="113.1" r="1.22"/>
<circle cx="275.9" cy="118.8" r="1.22"/>
<circle cx="311.7" cy="98.3" r="1.22"/>
<circle cx="321.9" cy="97.3" r="1.22"/>
<circle cx="313.9" cy="95.1" r="1.22"/>
<circle cx="319.7" cy="98.4" r="1.22"/>
<circle cx="320.6" cy="95.3" r="1.22"/>
<circle cx="304.2" cy="124.6" r="1.22"/>
<circle cx="326.4" cy="122.0" r="1.22"/>
<circle cx="325.2" cy="125.8" r="1.22"/>
</g>
<g fill="#1b1b5c">
<circle cx="267.3" cy="13.5" r="1.22"/>
<circle cx="273.2" cy="12.4" r="1.22"/>
<circle cx="262.5" cy="18.1" r="1.22"/>
<circle cx="269.1" cy="22.2" r="1.22"/>
<circle cx="263.7" cy="14.4" r="1.22"/>
<circle cx="272.8" cy="23.8" r="1.22"/>
<circle cx="277.0" cy="15.3" r="1.22"/>
<circle cx="264.8" cy="19.1" r="1.22"/>
<circle cx="273.7" cy="17.1" r="1.22"/>
<circle cx="267.2" cy="19.1" r="1.22"/>
<circle cx="275.8" cy="20.6" r="1.22"/>
<circle cx="262.6" cy="20.6" r="1.22"/>
<circle cx="278.7" cy="20.5" r="1.22"/>
<circle cx="270.8" cy="19.5" r="1.22"/>
<circle cx="268.6" cy="16.7" r="1.22"/>
<circle cx="278.7" cy="17.3" r="1.22"/>
<circle cx="264.7" cy="21.8" r="1.22"/>
<circle cx="275.6" cy="23.2" r="1.22"/>
<circle cx="276.3" cy="18.1" r="1.22"/>
<circle cx="266.6" cy="23.7" r="1.22"/>
<circle cx="273.2" cy="21.4" r="1.22"/>
<circle cx="274.4" cy="14.6" r="1.22"/>
<circle cx="270.4" cy="24.4" r="1.22"/>
<circle cx="276.1" cy="12.9" r="1.22"/>
<circle cx="281.5" cy="23.3" r="1.22"/>
<circle cx="278.6" cy="23.4" r="1.22"/>
<circle cx="281.6" cy="20.7" r="1.22"/>
<circle cx="280.2" cy="25.3" r="1.22"/>
<circle cx="228.1" cy="24.8" r="1.22"/>
<circle cx="232.6" cy="21.9" r="1.22"/>
<circle cx="230.3" cy="21.1" r="1.22"/>
<circle cx="232.5" cy="26.6" r="1.22"/>
<circle cx="237.2" cy="24.6" r="1.22"/>
<circle cx="234.9" cy="28.3" r="1.22"/>
<circle cx="229.7" cy="26.9" r="1.22"/>
<circle cx="226.8" cy="22.8" r="1.22"/>
<circle cx="235.4" cy="22.7" r="1.22"/>
<circle cx="237.3" cy="27.1" r="1.22"/>
<circle cx="242.6" cy="30.8" r="1.22"/>
<circle cx="240.1" cy="29.1" r="1.22"/>
<circle cx="241.3" cy="26.7" r="1.22"/>
<circle cx="244.0" cy="28.7" r="1.22"/>
<circle cx="232.8" cy="41.2" r="1.22"/>
<circle cx="231.7" cy="38.3" r="1.22"/>
<circle cx="229.4" cy="37.9" r="1.22"/>
<circle cx="192.9" cy="32.4" r="1.22"/>
<circle cx="198.2" cy="32.4" r="1.22"/>
<circle cx="200.9" cy="32.4" r="1.22"/>
<circle cx="198.1" cy="29.8" r="1.22"/>
<circle cx="194.6" cy="29.2" r="1.22"/>
<circle cx="188.9" cy="30.3" r="1.22"/>
<circle cx="176.0" cy="46.4" r="1.22"/>
<circle cx="173.5" cy="45.4" r="1.22"/>
<circle cx="181.9" cy="46.2" r="1.22"/>
<circle cx="179.2" cy="44.6" r="1.22"/>
<circle cx="210.2" cy="43.2" r="1.22"/>
<circle cx="210.5" cy="45.9" r="1.22"/>
<circle cx="213.0" cy="45.4" r="1.22"/>
<circle cx="214.3" cy="43.0" r="1.22"/>
<circle cx="207.7" cy="42.3" r="1.22"/>
<circle cx="212.0" cy="41.6" r="1.22"/>
<circle cx="206.3" cy="44.9" r="1.22"/>
<circle cx="208.1" cy="46.5" r="1.22"/>
<circle cx="216.7" cy="50.7" r="1.22"/>
<circle cx="216.8" cy="47.4" r="1.22"/>
<circle cx="214.0" cy="48.7" r="1.22"/>
<circle cx="194.2" cy="61.2" r="1.22"/>
<circle cx="192.2" cy="65.0" r="1.22"/>
<circle cx="196.6" cy="55.9" r="1.22"/>
<circle cx="194.0" cy="70.2" r="1.22"/>
<circle cx="204.5" cy="60.2" r="1.22"/>
<circle cx="198.3" cy="64.1" r="1.22"/>
<circle cx="186.4" cy="66.8" r="1.22"/>
<circle cx="194.1" cy="55.9" r="1.22"/>
<circle cx="199.4" cy="70.1" r="1.22"/>
<circle cx="190.8" cy="56.6" r="1.22"/>
<circle cx="201.7" cy="67.5" r="1.22"/>
<circle cx="189.9" cy="66.4" r="1.22"/>
<circle cx="197.9" cy="59.7" r="1.22"/>
<circle cx="195.8" cy="65.8" r="1.22"/>
<circle cx="186.2" cy="63.1" r="1.22"/>
<circle cx="190.4" cy="59.6" r="1.22"/>
<circle cx="203.1" cy="63.3" r="1.22"/>
<circle cx="196.9" cy="70.1" r="1.22"/>
<circle cx="194.5" cy="63.7" r="1.22"/>
<circle cx="199.2" cy="66.3" r="1.22"/>
<circle cx="201.7" cy="59.3" r="1.22"/>
<circle cx="199.9" cy="61.4" r="1.22"/>
<circle cx="189.2" cy="69.9" r="1.22"/>
<circle cx="200.3" cy="56.7" r="1.22"/>
<circle cx="203.8" cy="66.4" r="1.22"/>
<circle cx="196.6" cy="62.4" r="1.22"/>
<circle cx="200.7" cy="64.1" r="1.22"/>
<circle cx="194.3" cy="58.3" r="1.22"/>
<circle cx="191.7" cy="68.5" r="1.22"/>
<circle cx="205.4" cy="64.4" r="1.22"/>
<circle cx="188.0" cy="61.5" r="1.22"/>
<circle cx="185.0" cy="60.6" r="1.22"/>
<circle cx="188.2" cy="56.8" r="1.22"/>
<circle cx="191.7" cy="71.0" r="1.22"/>
<circle cx="229.2" cy="73.7" r="1.22"/>
<circle cx="218.9" cy="78.7" r="1.22"/>
<circle cx="221.9" cy="72.9" r="1.22"/>
<circle cx="217.2" cy="83.5" r="1.22"/>
<circle cx="221.7" cy="70.4" r="1.22"/>
<circle cx="215.8" cy="71.1" r="1.22"/>
<circle cx="221.4" cy="75.3" r="1.22"/>
<circle cx="216.8" cy="80.3" r="1.22"/>
<circle cx="227.0" cy="79.7" r="1.22"/>
<circle cx="214.7" cy="81.9" r="1.22"/>
<circle cx="223.3" cy="77.8" r="1.22"/>
<circle cx="214.6" cy="74.6" r="1.22"/>
<circle cx="209.4" cy="77.1" r="1.22"/>
<circle cx="225.9" cy="73.9" r="1.22"/>
<circle cx="231.0" cy="75.8" r="1.22"/>
<circle cx="209.8" cy="73.8" r="1.22"/>
<circle cx="218.3" cy="70.1" r="1.22"/>
<circle cx="211.5" cy="80.9" r="1.22"/>
<circle cx="224.9" cy="70.0" r="1.22"/>
<circle cx="212.2" cy="75.2" r="1.22"/>
<circle cx="219.0" cy="76.2" r="1.22"/>
<circle cx="212.7" cy="78.8" r="1.22"/>
<circle cx="217.6" cy="74.1" r="1.22"/>
<circle cx="215.4" cy="76.8" r="1.22"/>
<circle cx="224.6" cy="82.0" r="1.22"/>
<circle cx="227.4" cy="70.6" r="1.22"/>
<circle cx="219.4" cy="72.4" r="1.22"/>
<circle cx="219.1" cy="81.1" r="1.22"/>
<circle cx="213.6" cy="69.8" r="1.22"/>
<circle cx="221.1" cy="80.0" r="1.22"/>
<circle cx="227.9" cy="75.7" r="1.22"/>
<circle cx="220.4" cy="83.9" r="1.22"/>
<circle cx="223.1" cy="68.4" r="1.22"/>
<circle cx="227.1" cy="82.1" r="1.22"/>
<circle cx="224.2" cy="72.3" r="1.22"/>
<circle cx="220.0" cy="68.3" r="1.22"/>
<circle cx="235.2" cy="52.4" r="1.22"/>
<circle cx="229.2" cy="59.6" r="1.22"/>
<circle cx="231.5" cy="58.3" r="1.22"/>
<circle cx="237.3" cy="59.8" r="1.22"/>
<circle cx="234.6" cy="55.3" r="1.22"/>
<circle cx="231.6" cy="51.5" r="1.22"/>
<circle cx="237.4" cy="55.2" r="1.22"/>
<circle cx="226.7" cy="53.9" r="1.22"/>
<circle cx="239.2" cy="58.1" r="1.22"/>
<circle cx="237.6" cy="52.5" r="1.22"/>
<circle cx="233.2" cy="60.7" r="1.22"/>
<circle cx="229.3" cy="52.0" r="1.22"/>
<circle cx="239.8" cy="55.5" r="1.22"/>
<circle cx="248.0" cy="58.3" r="1.22"/>
<circle cx="243.6" cy="54.6" r="1.22"/>
<circle cx="241.3" cy="49.2" r="1.22"/>
<circle cx="245.5" cy="46.7" r="1.22"/>
<circle cx="248.3" cy="45.7" r="1.22"/>
<circle cx="255.0" cy="48.6" r="1.22"/>
<circle cx="250.7" cy="57.1" r="1.22"/>
<circle cx="251.8" cy="47.9" r="1.22"/>
<circle cx="245.8" cy="57.0" r="1.22"/>
<circle cx="244.0" cy="48.5" r="1.22"/>
<circle cx="241.4" cy="53.2" r="1.22"/>
<circle cx="245.8" cy="53.4" r="1.22"/>
<circle cx="242.9" cy="45.9" r="1.22"/>
<circle cx="249.3" cy="48.2" r="1.22"/>
<circle cx="252.5" cy="54.7" r="1.22"/>
<circle cx="253.2" cy="50.3" r="1.22"/>
<circle cx="249.1" cy="54.7" r="1.22"/>
<circle cx="242.7" cy="57.1" r="1.22"/>
<circle cx="244.2" cy="51.2" r="1.22"/>
<circle cx="240.5" cy="46.7" r="1.22"/>
<circle cx="238.3" cy="50.0" r="1.22"/>
<circle cx="251.0" cy="45.3" r="1.22"/>
<circle cx="256.0" cy="51.3" r="1.22"/>
<circle cx="246.5" cy="49.1" r="1.22"/>
<circle cx="273.9" cy="47.0" r="1.22"/>
<circle cx="270.5" cy="54.7" r="1.22"/>
<circle cx="270.3" cy="47.6" r="1.22"/>
<circle cx="263.7" cy="51.9" r="1.22"/>
<circle cx="279.5" cy="48.2" r="1.22"/>
<circle cx="271.1" cy="45.2" r="1.22"/>
<circle cx="279.0" cy="53.8" r="1.22"/>
<circle cx="274.1" cy="50.4" r="1.22"/>
<circle cx="276.1" cy="46.1" r="1.22"/>
<circle cx="271.4" cy="50.8" r="1.22"/>
<circle cx="267.5" cy="53.0" r="1.22"/>
<circle cx="273.2" cy="53.9" r="1.22"/>
<circle cx="280.7" cy="52.1" r="1.22"/>
<circle cx="275.4" cy="54.9" r="1.22"/>
<circle cx="274.9" cy="43.9" r="1.22"/>
<circle cx="276.9" cy="52.6" r="1.22"/>
<circle cx="268.2" cy="46.6" r="1.22"/>
<circle cx="279.4" cy="45.7" r="1.22"/>
<circle cx="263.7" cy="47.2" r="1.22"/>
<circle cx="268.1" cy="49.8" r="1.22"/>
<circle cx="266.0" cy="48.7" r="1.22"/>
<circle cx="275.9" cy="48.6" r="1.22"/>
<circle cx="265.9" cy="45.7" r="1.22"/>
<circle cx="265.4" cy="54.0" r="1.22"/>
<circle cx="265.9" cy="51.2" r="1.22"/>
<circle cx="268.1" cy="55.4" r="1.22"/>
<circle cx="272.6" cy="43.3" r="1.22"/>
<circle cx="262.6" cy="49.5" r="1.22"/>
<circle cx="253.2" cy="80.6" r="1.22"/>
<circle cx="253.5" cy="90.6" r="1.22"/>
<circle cx="250.8" cy="66.1" r="1.22"/>
<circle cx="264.0" cy="83.3" r="1.22"/>
<circle cx="243.1" cy="79.2" r="1.22"/>
<circle cx="268.6" cy="87.3" r="1.22"/>
<circle cx="257.6" cy="86.9" r="1.22"/>
<circle cx="270.0" cy="73.4" r="1.22"/>
<circle cx="249.6" cy="89.4" r="1.22"/>
<circle cx="245.3" cy="78.0" r="1.22"/>
<circle cx="258.4" cy="68.1" r="1.22"/>
<circle cx="270.3" cy="76.7" r="1.22"/>
<circle cx="244.5" cy="70.6" r="1.22"/>
<circle cx="265.1" cy="63.8" r="1.22"/>
<circle cx="247.9" cy="65.9" r="1.22"/>
<circle cx="256.2" cy="73.5" r="1.22"/>
<circle cx="254.4" cy="70.1" r="1.22"/>
<circle cx="260.7" cy="80.4" r="1.22"/>
<circle cx="261.9" cy="86.1" r="1.22"/>
<circle cx="249.7" cy="72.5" r="1.22"/>
<circle cx="244.8" cy="86.2" r="1.22"/>
<circle cx="267.2" cy="72.8" r="1.22"/>
<circle cx="266.6" cy="79.5" r="1.22"/>
<circle cx="252.4" cy="77.1" r="1.22"/>
<circle cx="268.0" cy="69.7" r="1.22"/>
<circle cx="259.0" cy="78.0" r="1.22"/>
<circle cx="271.3" cy="82.2" r="1.22"/>
<circle cx="262.5" cy="76.4" r="1.22"/>
<circle cx="247.2" cy="79.7" r="1.22"/>
<circle cx="247.1" cy="86.6" r="1.22"/>
<circle cx="252.4" cy="74.3" r="1.22"/>
<circle cx="253.7" cy="84.9" r="1.22"/>
<circle cx="259.6" cy="91.7" r="1.22"/>
<circle cx="257.8" cy="61.8" r="1.22"/>
<circle cx="256.3" cy="82.1" r="1.22"/>
<circle cx="263.8" cy="78.6" r="1.22"/>
<circle cx="248.6" cy="68.6" r="1.22"/>
<circle cx="260.0" cy="89.1" r="1.22"/>
<circle cx="263.8" cy="90.4" r="1.22"/>
<circle cx="264.5" cy="75.2" r="1.22"/>
<circle cx="251.9" cy="88.7" r="1.22"/>
<circle cx="261.3" cy="65.9" r="1.22"/>
<circle cx="256.4" cy="84.5" r="1.22"/>
<circle cx="261.3" cy="62.4" r="1.22"/>
<circle cx="266.8" cy="82.9" r="1.22"/>
<circle cx="243.0" cy="72.3" r="1.22"/>
<circle cx="251.1" cy="91.4" r="1.22"/>
<circle cx="250.6" cy="79.2" r="1.22"/>
<circle cx="258.9" cy="72.3" r="1.22"/>
<circle cx="247.3" cy="71.6" r="1.22"/>
<circle cx="254.0" cy="63.5" r="1.22"/>
<circle cx="250.4" cy="83.3" r="1.22"/>
<circle cx="248.3" cy="75.6" r="1.22"/>
<circle cx="269.8" cy="84.0" r="1.22"/>
<circle cx="266.3" cy="89.6" r="1.22"/>
<circle cx="255.1" cy="77.2" r="1.22"/>
<circle cx="252.1" cy="71.2" r="1.22"/>
<circle cx="257.8" cy="75.3" r="1.22"/>
<circle cx="259.4" cy="84.3" r="1.22"/>
<circle cx="267.6" cy="75.1" r="1.22"/>
<circle cx="263.9" cy="68.3" r="1.22"/>
<circle cx="242.8" cy="75.0" r="1.22"/>
<circle cx="265.9" cy="86.9" r="1.22"/>
<circle cx="245.3" cy="73.0" r="1.22"/>
<circle cx="259.0" cy="65.0" r="1.22"/>
<circle cx="251.6" cy="68.3" r="1.22"/>
<circle cx="263.2" cy="72.9" r="1.22"/>
<circle cx="245.4" cy="67.7" r="1.22"/>
<circle cx="249.1" cy="63.5" r="1.22"/>
<circle cx="256.2" cy="65.2" r="1.22"/>
<circle cx="251.6" cy="62.7" r="1.22"/>
<circle cx="247.8" cy="82.9" r="1.22"/>
<circle cx="255.9" cy="79.5" r="1.22"/>
<circle cx="266.0" cy="77.3" r="1.22"/>
<circle cx="257.4" cy="92.9" r="1.22"/>
<circle cx="262.9" cy="81.3" r="1.22"/>
<circle cx="260.2" cy="75.5" r="1.22"/>
<circle cx="265.2" cy="70.9" r="1.22"/>
<circle cx="254.7" cy="87.7" r="1.22"/>
<circle cx="268.3" cy="81.2" r="1.22"/>
<circle cx="261.8" cy="83.6" r="1.22"/>
<circle cx="245.8" cy="75.7" r="1.22"/>
<circle cx="271.9" cy="78.8" r="1.22"/>
<circle cx="270.4" cy="70.6" r="1.22"/>
<circle cx="268.9" cy="67.5" r="1.22"/>
<circle cx="267.4" cy="85.2" r="1.22"/>
<circle cx="257.4" cy="70.6" r="1.22"/>
<circle cx="262.8" cy="88.4" r="1.22"/>
<circle cx="254.2" cy="72.4" r="1.22"/>
<circle cx="263.7" cy="65.9" r="1.22"/>
<circle cx="255.3" cy="61.3" r="1.22"/>
<circle cx="246.0" cy="88.7" r="1.22"/>
<circle cx="248.7" cy="77.9" r="1.22"/>
<circle cx="242.4" cy="81.4" r="1.22"/>
<circle cx="245.0" cy="80.4" r="1.22"/>
<circle cx="256.8" cy="59.2" r="1.22"/>
<circle cx="267.6" cy="59.6" r="1.22"/>
<circle cx="260.9" cy="59.2" r="1.22"/>
<circle cx="250.1" cy="60.8" r="1.22"/>
<circle cx="263.3" cy="61.0" r="1.22"/>
<circle cx="253.9" cy="59.0" r="1.22"/>
<circle cx="264.8" cy="59.0" r="1.22"/>
<circle cx="247.4" cy="61.8" r="1.22"/>
<circle cx="271.0" cy="61.9" r="1.22"/>
<circle cx="277.9" cy="61.9" r="1.22"/>
<circle cx="276.3" cy="65.1" r="1.22"/>
<circle cx="270.7" cy="64.1" r="1.22"/>
<circle cx="275.1" cy="59.7" r="1.22"/>
<circle cx="272.7" cy="59.9" r="1.22"/>
<circle cx="288.3" cy="53.0" r="1.22"/>
<circle cx="288.6" cy="56.8" r="1.22"/>
<circle cx="291.7" cy="58.3" r="1.22"/>
<circle cx="279.1" cy="57.1" r="1.22"/>
<circle cx="294.1" cy="54.6" r="1.22"/>
<circle cx="293.9" cy="57.1" r="1.22"/>
<circle cx="287.1" cy="59.5" r="1.22"/>
<circle cx="284.7" cy="58.0" r="1.22"/>
<circle cx="282.2" cy="58.9" r="1.22"/>
<circle cx="284.9" cy="55.0" r="1.22"/>
<circle cx="291.3" cy="55.1" r="1.22"/>
<circle cx="282.0" cy="54.3" r="1.22"/>
<circle cx="286.0" cy="50.9" r="1.22"/>
<circle cx="276.8" cy="57.7" r="1.22"/>
<circle cx="289.7" cy="59.5" r="1.22"/>
<circle cx="300.0" cy="47.2" r="1.22"/>
<circle cx="298.6" cy="55.3" r="1.22"/>
<circle cx="296.1" cy="49.7" r="1.22"/>
<circle cx="293.9" cy="48.7" r="1.22"/>
<circle cx="302.5" cy="53.7" r="1.22"/>
<circle cx="305.3" cy="50.7" r="1.22"/>
<circle cx="297.9" cy="52.2" r="1.22"/>
<circle cx="301.9" cy="56.6" r="1.22"/>
<circle cx="301.6" cy="51.4" r="1.22"/>
<circle cx="299.1" cy="49.3" r="1.22"/>
<circle cx="305.8" cy="54.3" r="1.22"/>
<circle cx="297.5" cy="47.2" r="1.22"/>
<circle cx="302.5" cy="48.3" r="1.22"/>
<circle cx="294.5" cy="51.8" r="1.22"/>
<circle cx="304.2" cy="56.3" r="1.22"/>
<circle cx="300.1" cy="53.3" r="1.22"/>
<circle cx="288.9" cy="95.3" r="1.22"/>
<circle cx="288.8" cy="91.2" r="1.22"/>
<circle cx="292.4" cy="85.8" r="1.22"/>
<circle cx="291.6" cy="98.5" r="1.22"/>
<circle cx="288.6" cy="98.6" r="1.22"/>
<circle cx="287.3" cy="89.3" r="1.22"/>
<circle cx="291.9" cy="91.6" r="1.22"/>
<circle cx="292.3" cy="95.8" r="1.22"/>
<circle cx="296.0" cy="88.5" r="1.22"/>
<circle cx="293.5" cy="88.7" r="1.22"/>
<circle cx="294.7" cy="92.0" r="1.22"/>
<circle cx="297.3" cy="93.0" r="1.22"/>
<circle cx="294.3" cy="97.7" r="1.22"/>
<circle cx="289.7" cy="88.7" r="1.22"/>
<circle cx="286.1" cy="93.4" r="1.22"/>
<circle cx="295.0" cy="95.2" r="1.22"/>
<circle cx="297.4" cy="90.6" r="1.22"/>
<circle cx="289.7" cy="86.0" r="1.22"/>
<circle cx="295.0" cy="86.2" r="1.22"/>
<circle cx="305.4" cy="85.9" r="1.22"/>
<circle cx="302.0" cy="87.2" r="1.22"/>
<circle cx="301.2" cy="89.7" r="1.22"/>
<circle cx="304.7" cy="89.2" r="1.22"/>
<circle cx="303.1" cy="84.7" r="1.22"/>
<circle cx="299.0" cy="88.7" r="1.22"/>
<circle cx="287.4" cy="80.0" r="1.22"/>
<circle cx="291.7" cy="76.1" r="1.22"/>
<circle cx="294.7" cy="76.1" r="1.22"/>
<circle cx="297.4" cy="77.9" r="1.22"/>
<circle cx="291.2" cy="80.8" r="1.22"/>
<circle cx="293.5" cy="78.6" r="1.22"/>
<circle cx="285.6" cy="76.5" r="1.22"/>
<circle cx="293.7" cy="81.3" r="1.22"/>
<circle cx="285.8" cy="84.5" r="1.22"/>
<circle cx="282.5" cy="82.1" r="1.22"/>
<circle cx="284.9" cy="81.0" r="1.22"/>
<circle cx="282.9" cy="85.3" r="1.22"/>
<circle cx="331.3" cy="68.1" r="1.22"/>
<circle cx="328.7" cy="69.0" r="1.22"/>
<circle cx="317.6" cy="70.0" r="1.22"/>
<circle cx="324.7" cy="69.0" r="1.22"/>
<circle cx="315.3" cy="70.3" r="1.22"/>
<circle cx="319.8" cy="68.0" r="1.22"/>
<circle cx="326.1" cy="67.1" r="1.22"/>
<circle cx="327.2" cy="79.8" r="1.22"/>
<circle cx="323.6" cy="79.2" r="1.22"/>
<circle cx="321.1" cy="79.2" r="1.22"/>
<circle cx="349.2" cy="59.6" r="1.22"/>
<circle cx="349.0" cy="63.0" r="1.22"/>
<circle cx="347.8" cy="65.9" r="1.22"/>
<circle cx="346.8" cy="61.4" r="1.22"/>
<circle cx="350.2" cy="65.2" r="1.22"/>
<circle cx="346.1" cy="63.7" r="1.22"/>
<circle cx="235.6" cy="93.3" r="1.22"/>
<circle cx="237.5" cy="100.3" r="1.22"/>
<circle cx="226.9" cy="97.2" r="1.22"/>
<circle cx="233.1" cy="96.1" r="1.22"/>
<circle cx="235.1" cy="97.7" r="1.22"/>
<circle cx="239.1" cy="92.2" r="1.22"/>
<circle cx="229.0" cy="95.1" r="1.22"/>
<circle cx="231.3" cy="98.8" r="1.22"/>
<circle cx="238.9" cy="97.7" r="1.22"/>
<circle cx="236.7" cy="95.8" r="1.22"/>
<circle cx="241.5" cy="92.6" r="1.22"/>
<circle cx="233.3" cy="91.2" r="1.22"/>
<circle cx="244.2" cy="96.2" r="1.22"/>
<circle cx="242.8" cy="98.2" r="1.22"/>
<circle cx="230.2" cy="92.1" r="1.22"/>
<circle cx="228.9" cy="99.0" r="1.22"/>
<circle cx="234.6" cy="100.4" r="1.22"/>
<circle cx="232.4" cy="93.7" r="1.22"/>
<circle cx="236.6" cy="91.1" r="1.22"/>
<circle cx="277.4" cy="94.8" r="1.22"/>
<circle cx="277.3" cy="99.9" r="1.22"/>
<circle cx="273.8" cy="98.3" r="1.22"/>
<circle cx="279.6" cy="98.2" r="1.22"/>
<circle cx="273.8" cy="95.6" r="1.22"/>
<circle cx="275.8" cy="97.0" r="1.22"/>
<circle cx="280.4" cy="95.5" r="1.22"/>
<circle cx="246.5" cy="113.5" r="1.22"/>
<circle cx="256.5" cy="112.4" r="1.22"/>
<circle cx="258.0" cy="108.5" r="1.22"/>
<circle cx="265.6" cy="108.7" r="1.22"/>
<circle cx="260.3" cy="106.6" r="1.22"/>
<circle cx="256.7" cy="105.7" r="1.22"/>
<circle cx="262.6" cy="107.6" r="1.22"/>
<circle cx="248.8" cy="110.0" r="1.22"/>
<circle cx="260.0" cy="110.6" r="1.22"/>
<circle cx="250.7" cy="113.1" r="1.22"/>
<circle cx="251.5" cy="110.8" r="1.22"/>
<circle cx="252.9" cy="114.5" r="1.22"/>
<circle cx="262.7" cy="103.7" r="1.22"/>
<circle cx="254.0" cy="105.8" r="1.22"/>
<circle cx="250.3" cy="107.9" r="1.22"/>
<circle cx="265.6" cy="106.3" r="1.22"/>
<circle cx="259.0" cy="103.9" r="1.22"/>
<circle cx="253.7" cy="112.1" r="1.22"/>
<circle cx="259.2" cy="113.5" r="1.22"/>
<circle cx="255.3" cy="114.5" r="1.22"/>
<circle cx="261.9" cy="112.1" r="1.22"/>
<circle cx="248.8" cy="114.8" r="1.22"/>
<circle cx="245.9" cy="111.2" r="1.22"/>
<circle cx="218.4" cy="118.4" r="1.22"/>
<circle cx="225.6" cy="111.8" r="1.22"/>
<circle cx="227.6" cy="114.3" r="1.22"/>
<circle cx="217.1" cy="116.2" r="1.22"/>
<circle cx="218.6" cy="110.4" r="1.22"/>
<circle cx="221.9" cy="118.7" r="1.22"/>
<circle cx="218.8" cy="121.3" r="1.22"/>
<circle cx="212.7" cy="116.9" r="1.22"/>
<circle cx="227.3" cy="116.9" r="1.22"/>
<circle cx="221.0" cy="108.2" r="1.22"/>
<circle cx="215.9" cy="112.9" r="1.22"/>
<circle cx="212.2" cy="113.5" r="1.22"/>
<circle cx="221.3" cy="121.1" r="1.22"/>
<circle cx="215.8" cy="118.4" r="1.22"/>
<circle cx="221.1" cy="111.4" r="1.22"/>
<circle cx="224.3" cy="118.9" r="1.22"/>
<circle cx="223.7" cy="110.2" r="1.22"/>
<circle cx="216.1" cy="110.0" r="1.22"/>
<circle cx="219.7" cy="115.8" r="1.22"/>
<circle cx="218.5" cy="107.9" r="1.22"/>
<circle cx="230.8" cy="107.2" r="1.22"/>
<circle cx="272.4" cy="116.4" r="1.22"/>
<circle cx="285.3" cy="118.6" r="1.22"/>
<circle cx="279.4" cy="117.4" r="1.22"/>
<circle cx="278.6" cy="115.0" r="1.22"/>
<circle cx="282.7" cy="118.9" r="1.22"/>
<circle cx="283.1" cy="112.7" r="1.22"/>
<circle cx="275.5" cy="116.3" r="1.22"/>
<circle cx="273.5" cy="112.7" r="1.22"/>
<circle cx="284.2" cy="116.0" r="1.22"/>
<circle cx="280.0" cy="119.8" r="1.22"/>
<circle cx="273.2" cy="119.6" r="1.22"/>
<circle cx="275.9" cy="113.5" r="1.22"/>
<circle cx="277.9" cy="111.8" r="1.22"/>
<circle cx="286.9" cy="116.9" r="1.22"/>
<circle cx="278.2" cy="122.2" r="1.22"/>
<circle cx="281.9" cy="115.3" r="1.22"/>
<circle cx="283.7" cy="121.8" r="1.22"/>
<circle cx="275.8" cy="121.2" r="1.22"/>
<circle cx="288.6" cy="114.9" r="1.22"/>
<circle cx="281.0" cy="122.4" r="1.22"/>
<circle cx="281.4" cy="110.6" r="1.22"/>
<circle cx="286.9" cy="120.3" r="1.22"/>
<circle cx="244.2" cy="130.4" r="1.22"/>
<circle cx="248.5" cy="131.9" r="1.22"/>
<circle cx="243.1" cy="128.3" r="1.22"/>
<circle cx="246.0" cy="128.9" r="1.22"/>
<circle cx="248.7" cy="128.3" r="1.22"/>
<circle cx="244.9" cy="132.9" r="1.22"/>
<circle cx="242.4" cy="132.1" r="1.22"/>
<circle cx="240.7" cy="130.3" r="1.22"/>
<circle cx="244.8" cy="126.5" r="1.22"/>
<circle cx="316.2" cy="94.5" r="1.22"/>
<circle cx="314.0" cy="97.6" r="1.22"/>
<circle cx="317.8" cy="99.8" r="1.22"/>
<circle cx="318.2" cy="95.9" r="1.22"/>
<circle cx="313.4" cy="100.6" r="1.22"/>
<circle cx="310.6" cy="96.0" r="1.22"/>
<circle cx="316.6" cy="97.6" r="1.22"/>
<circle cx="310.7" cy="123.4" r="1.22"/>
<circle cx="309.1" cy="119.2" r="1.22"/>
<circle cx="307.5" cy="122.0" r="1.22"/>
<circle cx="314.6" cy="120.7" r="1.22"/>
<circle cx="314.0" cy="124.5" r="1.22"/>
<circle cx="311.5" cy="119.6" r="1.22"/>
<circle cx="308.9" cy="127.1" r="1.22"/>
<circle cx="303.4" cy="122.2" r="1.22"/>
<circle cx="306.8" cy="118.9" r="1.22"/>
<circle cx="307.0" cy="124.6" r="1.22"/>
<circle cx="316.3" cy="122.5" r="1.22"/>
<circle cx="311.6" cy="126.6" r="1.22"/>
<circle cx="306.0" cy="126.8" r="1.22"/>
<circle cx="304.7" cy="120.1" r="1.22"/>
<circle cx="313.0" cy="122.4" r="1.22"/>
<circle cx="323.8" cy="123.1" r="1.22"/>
<circle cx="320.8" cy="124.4" r="1.22"/>
<circle cx="322.5" cy="126.7" r="1.22"/>
<circle cx="303.6" cy="132.6" r="1.22"/>
<circle cx="305.4" cy="134.2" r="1.22"/>
<circle cx="306.7" cy="130.8" r="1.22"/>
<circle cx="302.0" cy="130.5" r="1.22"/>
<circle cx="304.4" cy="130.1" r="1.22"/>
<circle cx="239.0" cy="35.5" r="1.22"/>
<circle cx="239.0" cy="41.0" r="1.22"/>
<circle cx="251.0" cy="41.3" r="1.22"/>
<circle cx="196.4" cy="76.7" r="1.22"/>
<circle cx="316.0" cy="81.2" r="1.22"/>
<circle cx="297.0" cy="37.0" r="1.22"/>
<circle cx="298.8" cy="35.0" r="1.22"/>
<circle cx="181.5" cy="97.8" r="1.22"/>
<circle cx="185.0" cy="96.6" r="1.22"/>
<circle cx="191.3" cy="96.0" r="1.22"/>
<circle cx="193.6" cy="97.0" r="1.22"/>
<circle cx="324.5" cy="98.4" r="1.22"/>
<circle cx="346.5" cy="69.5" r="1.22"/>
</g>
<polygon points="282.9,62 287.3,61.2 294,62 299.4,62.6 302.7,64 306.6,68.8 304.5,72.2 299,74.8 294,77 290,79.5 286,81 281,82 275.2,81 270.8,78.5 269.7,74 272.5,70.7 276,67.4 279.6,64" fill="#f1f6b2" stroke="#f1f6b2" stroke-width="0.6" stroke-linejoin="round"/>
<g fill="#f1f6b2">
<circle cx="286.0" cy="61.9" r="1.0"/>
<circle cx="287.4" cy="61.8" r="1.0"/>
<circle cx="283.0" cy="62.6" r="1.0"/>
<circle cx="292.2" cy="61.2" r="1.0"/>
<circle cx="290.1" cy="61.6" r="1.0"/>
<circle cx="290.5" cy="61.3" r="1.0"/>
<circle cx="296.1" cy="62.5" r="1.0"/>
<circle cx="295.3" cy="61.6" r="1.0"/>
<circle cx="296.8" cy="61.7" r="1.0"/>
<circle cx="301.9" cy="63.4" r="1.0"/>
<circle cx="303.2" cy="63.7" r="1.0"/>
<circle cx="302.6" cy="64.2" r="1.0"/>
<circle cx="304.1" cy="65.2" r="1.0"/>
<circle cx="307.0" cy="68.4" r="1.0"/>
<circle cx="303.6" cy="65.2" r="1.0"/>
<circle cx="306.2" cy="69.2" r="1.0"/>
<circle cx="306.8" cy="68.6" r="1.0"/>
<circle cx="306.4" cy="69.8" r="1.0"/>
<circle cx="302.7" cy="73.3" r="1.0"/>
<circle cx="304.9" cy="71.7" r="1.0"/>
<circle cx="300.9" cy="73.5" r="1.0"/>
<circle cx="294.9" cy="76.6" r="1.0"/>
<circle cx="298.3" cy="74.4" r="1.0"/>
<circle cx="293.8" cy="77.3" r="1.0"/>
<circle cx="290.9" cy="79.1" r="1.0"/>
<circle cx="292.6" cy="78.3" r="1.0"/>
<circle cx="293.9" cy="77.7" r="1.0"/>
<circle cx="285.9" cy="81.4" r="1.0"/>
<circle cx="289.4" cy="79.8" r="1.0"/>
<circle cx="286.1" cy="81.5" r="1.0"/>
<circle cx="283.0" cy="81.3" r="1.0"/>
<circle cx="284.5" cy="80.7" r="1.0"/>
<circle cx="283.2" cy="81.2" r="1.0"/>
<circle cx="281.4" cy="82.0" r="1.0"/>
<circle cx="278.3" cy="81.7" r="1.0"/>
<circle cx="276.1" cy="81.1" r="1.0"/>
<circle cx="275.5" cy="80.2" r="1.0"/>
<circle cx="273.5" cy="79.2" r="1.0"/>
<circle cx="272.6" cy="79.4" r="1.0"/>
<circle cx="269.4" cy="74.9" r="1.0"/>
<circle cx="271.1" cy="77.5" r="1.0"/>
<circle cx="271.0" cy="77.0" r="1.0"/>
<circle cx="272.4" cy="70.8" r="1.0"/>
<circle cx="271.7" cy="71.3" r="1.0"/>
<circle cx="270.3" cy="72.5" r="1.0"/>
<circle cx="276.6" cy="67.6" r="1.0"/>
<circle cx="274.0" cy="68.5" r="1.0"/>
<circle cx="273.8" cy="70.3" r="1.0"/>
<circle cx="277.7" cy="66.6" r="1.0"/>
<circle cx="278.7" cy="65.4" r="1.0"/>
<circle cx="277.6" cy="65.9" r="1.0"/>
<circle cx="281.6" cy="63.3" r="1.0"/>
<circle cx="281.2" cy="63.6" r="1.0"/>
<circle cx="280.8" cy="62.9" r="1.0"/>
</g>
<g fill="#f6f9d4">
<circle cx="278.5" cy="74.8" r="0.9"/>
<circle cx="286.6" cy="78.0" r="0.9"/>
<circle cx="282.2" cy="74.2" r="0.9"/>
<circle cx="282.3" cy="78.5" r="0.9"/>
<circle cx="288.7" cy="71.6" r="0.9"/>
<circle cx="275.3" cy="78.4" r="0.9"/>
<circle cx="304.6" cy="70.5" r="0.9"/>
<circle cx="295.3" cy="75.8" r="0.9"/>
<circle cx="296.8" cy="63.8" r="0.9"/>
<circle cx="298.7" cy="72.8" r="0.9"/>
<circle cx="294.3" cy="69.3" r="0.9"/>
<circle cx="292.7" cy="77.0" r="0.9"/>
<circle cx="293.2" cy="75.8" r="0.9"/>
<circle cx="285.8" cy="74.3" r="0.9"/>
<circle cx="277.3" cy="75.1" r="0.9"/>
<circle cx="286.9" cy="65.0" r="0.9"/>
<circle cx="281.1" cy="64.0" r="0.9"/>
<circle cx="286.7" cy="68.4" r="0.9"/>
<circle cx="292.2" cy="73.0" r="0.9"/>
<circle cx="278.0" cy="79.9" r="0.9"/>
<circle cx="279.6" cy="69.0" r="0.9"/>
<circle cx="273.4" cy="78.3" r="0.9"/>
<circle cx="292.3" cy="62.1" r="0.9"/>
<circle cx="289.7" cy="67.5" r="0.9"/>
<circle cx="300.1" cy="69.2" r="0.9"/>
<circle cx="299.9" cy="74.1" r="0.9"/>
<circle cx="283.0" cy="63.1" r="0.9"/>
<circle cx="291.6" cy="72.4" r="0.9"/>
<circle cx="292.1" cy="67.7" r="0.9"/>
<circle cx="273.1" cy="72.4" r="0.9"/>
<circle cx="292.4" cy="63.1" r="0.9"/>
<circle cx="283.3" cy="69.5" r="0.9"/>
<circle cx="277.6" cy="66.4" r="0.9"/>
<circle cx="306.0" cy="68.4" r="0.9"/>
<circle cx="291.6" cy="65.7" r="0.9"/>
<circle cx="284.8" cy="67.0" r="0.9"/>
<circle cx="279.9" cy="70.5" r="0.9"/>
<circle cx="273.6" cy="73.7" r="0.9"/>
<circle cx="285.9" cy="66.4" r="0.9"/>
<circle cx="279.4" cy="80.6" r="0.9"/>
<circle cx="298.7" cy="65.4" r="0.9"/>
<circle cx="292.1" cy="70.4" r="0.9"/>
<circle cx="293.5" cy="73.3" r="0.9"/>
<circle cx="297.3" cy="62.6" r="0.9"/>
<circle cx="297.9" cy="66.6" r="0.9"/>
</g>
<g fill="#e6eea0">
<circle cx="289.3" cy="67.4" r="0.8"/>
<circle cx="280.3" cy="71.7" r="0.8"/>
<circle cx="286.6" cy="67.9" r="0.8"/>
<circle cx="297.3" cy="73.0" r="0.8"/>
<circle cx="286.3" cy="80.2" r="0.8"/>
<circle cx="302.7" cy="72.0" r="0.8"/>
<circle cx="285.3" cy="72.7" r="0.8"/>
<circle cx="295.9" cy="73.9" r="0.8"/>
<circle cx="287.3" cy="80.1" r="0.8"/>
<circle cx="283.6" cy="68.6" r="0.8"/>
<circle cx="301.4" cy="64.3" r="0.8"/>
<circle cx="280.3" cy="78.3" r="0.8"/>
<circle cx="271.5" cy="78.4" r="0.8"/>
<circle cx="295.4" cy="69.5" r="0.8"/>
<circle cx="279.9" cy="77.2" r="0.8"/>
<circle cx="287.2" cy="72.1" r="0.8"/>
<circle cx="287.9" cy="67.3" r="0.8"/>
<circle cx="274.8" cy="72.9" r="0.8"/>
<circle cx="277.7" cy="78.0" r="0.8"/>
<circle cx="299.1" cy="74.6" r="0.8"/>
</g>
<g fill="#f1f6b2">
<circle cx="251.3" cy="90.6" r="1.15"/>
<circle cx="239.1" cy="91.8" r="1.15"/>
<circle cx="257.5" cy="105.2" r="1.15"/>
<circle cx="252.6" cy="110.1" r="1.15"/>
<circle cx="218.3" cy="75.9" r="1.15"/>
<circle cx="245.2" cy="130.9" r="1.15"/>
<circle cx="285.6" cy="112.6" r="1.15"/>
<circle cx="238.0" cy="94.0" r="1.15"/>
<circle cx="266.0" cy="18.0" r="1.15"/>
<circle cx="201.0" cy="58.0" r="1.15"/>
<circle cx="262.0" cy="104.0" r="1.15"/>
<circle cx="282.0" cy="84.0" r="1.15"/>
</g>
<g fill="#1b1b5c" stroke="#fff" stroke-width="0.3">
<circle cx="274.5" cy="67.5" r="1.3"/>
<circle cx="272.0" cy="71.5" r="1.3"/>
<circle cx="279.0" cy="66.0" r="1.3"/>
<circle cx="284.0" cy="64.0" r="1.3"/>
<circle cx="288.4" cy="73.0" r="1.3"/>
<circle cx="290.6" cy="77.5" r="1.3"/>
<circle cx="296.0" cy="75.5" r="1.3"/>
<circle cx="300.0" cy="73.5" r="1.3"/>
<circle cx="301.5" cy="64.2" r="1.3"/>
<circle cx="293.5" cy="79.5" r="1.3"/>
<circle cx="281.0" cy="61.5" r="1.3"/>
<circle cx="277.0" cy="63.5" r="1.3"/>
<circle cx="268.5" cy="77.0" r="1.3"/>
<circle cx="271.0" cy="81.0" r="1.3"/>
<circle cx="287.0" cy="81.5" r="1.3"/>
</g>
<text x="4.6" y="174.7" font-size="10" class="L" textLength="12.5" lengthAdjust="spacingAndGlyphs">(B)</text>
<line x1="16.6" y1="306.40" x2="18.3" y2="306.40" stroke="#333" stroke-width="0.6"/>
<text x="15.2" y="308.60" font-size="5.0" class="t tk" text-anchor="end">0.0</text>
<line x1="27.55" y1="311.3" x2="27.55" y2="313" stroke="#333" stroke-width="0.6"/>
<text x="27.65" y="318.75" font-size="5.0" class="t tk" text-anchor="middle">0.0</text>
<line x1="16.6" y1="283.80" x2="18.3" y2="283.80" stroke="#333" stroke-width="0.6"/>
<text x="15.2" y="286.00" font-size="5.0" class="t tk" text-anchor="end">0.2</text>
<line x1="64.37" y1="311.3" x2="64.37" y2="313" stroke="#333" stroke-width="0.6"/>
<text x="64.47" y="318.75" font-size="5.0" class="t tk" text-anchor="middle">0.2</text>
<line x1="16.6" y1="261.20" x2="18.3" y2="261.20" stroke="#333" stroke-width="0.6"/>
<text x="15.2" y="263.40" font-size="5.0" class="t tk" text-anchor="end">0.4</text>
<line x1="101.19" y1="311.3" x2="101.19" y2="313" stroke="#333" stroke-width="0.6"/>
<text x="101.29" y="318.75" font-size="5.0" class="t tk" text-anchor="middle">0.4</text>
<line x1="16.6" y1="238.60" x2="18.3" y2="238.60" stroke="#333" stroke-width="0.6"/>
<text x="15.2" y="240.80" font-size="5.0" class="t tk" text-anchor="end">0.6</text>
<line x1="138.01" y1="311.3" x2="138.01" y2="313" stroke="#333" stroke-width="0.6"/>
<text x="138.11" y="318.75" font-size="5.0" class="t tk" text-anchor="middle">0.6</text>
<line x1="16.6" y1="216.00" x2="18.3" y2="216.00" stroke="#333" stroke-width="0.6"/>
<text x="15.2" y="218.20" font-size="5.0" class="t tk" text-anchor="end">0.8</text>
<line x1="174.83" y1="311.3" x2="174.83" y2="313" stroke="#333" stroke-width="0.6"/>
<text x="174.93" y="318.75" font-size="5.0" class="t tk" text-anchor="middle">0.8</text>
<line x1="16.6" y1="193.40" x2="18.3" y2="193.40" stroke="#333" stroke-width="0.6"/>
<text x="15.2" y="195.60" font-size="5.0" class="t tk" text-anchor="end">1.0</text>
<line x1="211.65" y1="311.3" x2="211.65" y2="313" stroke="#333" stroke-width="0.6"/>
<text x="211.75" y="318.75" font-size="5.0" class="t tk" text-anchor="middle">1.0</text>
<text x="119.5" y="325" font-size="4.95" class="ta2" text-anchor="middle">False Positive Rate</text>
<text transform="translate(5.6,249.5) rotate(-90)" font-size="4.95" class="ta2" text-anchor="middle">True Positive Rate</text>
<path d="M27.55,306.40 L28.10,296.23 L28.84,286.96 L30.31,276.34 L31.97,267.19 L33.63,260.07 L34.73,256.34 L36.57,250.13 L39.15,242.78 L42.09,236.68 L44.67,232.72 L48.35,228.54 L51.11,223.91 L53.88,219.39 L56.64,214.87 L59.40,210.24 L63.08,206.17 L66.76,202.78 L70.26,199.39 L73.94,196.45 L79.47,194.19 L84.62,193.63 L91.98,193.40 L211.65,193.40" fill="none" stroke="#1f77b4" stroke-width="1.0" stroke-opacity="0.88" stroke-linejoin="round"/>
<path d="M27.55,306.40 L28.47,297.81 L29.58,290.13 L31.97,282.44 L34.91,274.76 L38.78,265.61 L40.25,261.99 L42.65,258.04 L44.67,253.85 L48.17,247.75 L51.30,240.29 L54.43,234.19 L57.93,228.09 L61.79,222.55 L64.00,221.08 L68.24,217.13 L73.02,213.40 L77.99,210.35 L80.02,208.32 L83.52,206.28 L86.83,203.57 L91.43,201.65 L97.32,199.95 L103.03,198.82 L108.74,198.03 L114.63,197.13 L120.34,196.22 L126.04,195.66 L131.93,194.98 L140.04,194.53 L156.42,193.85 L174.83,193.40 L211.65,193.40" fill="none" stroke="#ff7f0e" stroke-width="1.0" stroke-opacity="0.88" stroke-linejoin="round"/>
<path d="M27.55,306.40 L28.10,296.23 L28.84,286.96 L30.31,276.34 L31.97,267.19 L33.63,260.07 L34.73,254.98 L36.02,248.88 L37.86,242.22 L39.52,236.90 L41.36,231.25 L43.20,226.73 L45.59,223.01 L48.35,219.39 L51.11,216.56 L53.88,213.85 L57.56,209.67 L61.24,205.60 L64.74,203.68 L68.42,201.87 L72.29,200.07 L75.97,198.26 L79.65,196.79 L83.15,195.77 L110.39,195.55 L117.76,194.53 L128.81,193.40 L211.65,193.40" fill="none" stroke="#2ca02c" stroke-width="1.0" stroke-opacity="0.88" stroke-linejoin="round"/>
<path d="M27.55,306.40 L28.84,293.18 L30.31,285.50 L32.70,276.34 L34.91,265.61 L36.02,258.71 L37.12,252.61 L39.70,247.75 L43.38,241.65 L46.33,236.68 L49.46,232.95 L51.30,229.33 L53.69,226.28 L56.09,221.42 L59.77,216.45 L63.27,212.16 L67.68,207.86 L70.63,203.80 L74.31,200.63 L77.99,198.71 L81.68,196.90 L84.99,194.98 L88.30,193.96 L93.83,193.40 L211.65,193.40" fill="none" stroke="#d62728" stroke-width="1.0" stroke-opacity="0.88" stroke-linejoin="round"/>
<line x1="27.55" y1="306.40" x2="211.65" y2="193.40" stroke="#7462a8" stroke-width="0.9" stroke-dasharray="2.3,1.45"/>
<rect x="18.35" y="188.45" width="202.25" height="123.1" fill="none" stroke="#5e5e5e" stroke-width="0.95"/>
<rect x="111" y="274.2" width="107.3" height="34.8" rx="1" fill="#fff" fill-opacity="0.85" stroke="#d8d8d8" stroke-width="0.5"/>
<line x1="112.7" y1="278.10" x2="122.5" y2="278.10" stroke="#1f77b4" stroke-width="0.9" stroke-opacity="0.75"/>
<text x="125.9" y="279.90" font-size="5.1" class="t" font-family="Liberation Sans, sans-serif">ExtraTrees (AUC = 0.92 ± 0.02)</text>
<line x1="112.7" y1="284.72" x2="122.5" y2="284.72" stroke="#ff7f0e" stroke-width="0.9" stroke-opacity="0.75"/>
<text x="125.9" y="286.52" font-size="5.1" class="t" font-family="Liberation Sans, sans-serif">RandomForest (AUC = 0.86 ± 0.04)</text>
<line x1="112.7" y1="291.34" x2="122.5" y2="291.34" stroke="#2ca02c" stroke-width="0.9" stroke-opacity="0.75"/>
<text x="125.9" y="293.14" font-size="5.1" class="t" font-family="Liberation Sans, sans-serif">SVM (AUC = 0.92 ± 0.02)</text>
<line x1="112.7" y1="297.96" x2="122.5" y2="297.96" stroke="#d62728" stroke-width="0.9" stroke-opacity="0.75"/>
<text x="125.9" y="299.76" font-size="5.1" class="t" font-family="Liberation Sans, sans-serif">LogisticRegression (AUC = 0.90 ± 0.02)</text>
<line x1="112.7" y1="304.58" x2="122.5" y2="304.58" stroke="#7462a8" stroke-width="0.9" stroke-opacity="0.75" stroke-dasharray="2.3,1.45"/>
<text x="125.9" y="306.38" font-size="5.1" class="t" font-family="Liberation Sans, sans-serif">Random</text>
<text x="302.9" y="175" font-size="10" class="L" textLength="12.3" lengthAdjust="spacingAndGlyphs">(C)</text>
<line x1="312.7" y1="306.80" x2="314.5" y2="306.80" stroke="#333" stroke-width="0.6"/>
<text x="312.3" y="308.60" font-size="5.0" class="t tk" text-anchor="end">0.00</text>
<line x1="312.7" y1="291.40" x2="314.5" y2="291.40" stroke="#333" stroke-width="0.6"/>
<text x="312.3" y="293.20" font-size="5.0" class="t tk" text-anchor="end">0.05</text>
<line x1="312.7" y1="276.00" x2="314.5" y2="276.00" stroke="#333" stroke-width="0.6"/>
<text x="312.3" y="277.80" font-size="5.0" class="t tk" text-anchor="end">0.10</text>
<line x1="312.7" y1="260.60" x2="314.5" y2="260.60" stroke="#333" stroke-width="0.6"/>
<text x="312.3" y="262.40" font-size="5.0" class="t tk" text-anchor="end">0.15</text>
<line x1="312.7" y1="245.20" x2="314.5" y2="245.20" stroke="#333" stroke-width="0.6"/>
<text x="312.3" y="247.00" font-size="5.0" class="t tk" text-anchor="end">0.20</text>
<line x1="312.7" y1="229.80" x2="314.5" y2="229.80" stroke="#333" stroke-width="0.6"/>
<text x="312.3" y="231.60" font-size="5.0" class="t tk" text-anchor="end">0.25</text>
<line x1="312.7" y1="214.40" x2="314.5" y2="214.40" stroke="#333" stroke-width="0.6"/>
<text x="312.3" y="216.20" font-size="5.0" class="t tk" text-anchor="end">0.30</text>
<line x1="312.7" y1="199.00" x2="314.5" y2="199.00" stroke="#333" stroke-width="0.6"/>
<text x="312.3" y="200.80" font-size="5.0" class="t tk" text-anchor="end">0.35</text>
<line x1="323.50" y1="312.3" x2="323.50" y2="314" stroke="#333" stroke-width="0.6"/>
<text x="323.60" y="319.1" font-size="5.0" class="t tk" text-anchor="middle">0.0</text>
<line x1="360.52" y1="312.3" x2="360.52" y2="314" stroke="#333" stroke-width="0.6"/>
<text x="360.62" y="319.1" font-size="5.0" class="t tk" text-anchor="middle">0.2</text>
<line x1="397.54" y1="312.3" x2="397.54" y2="314" stroke="#333" stroke-width="0.6"/>
<text x="397.64" y="319.1" font-size="5.0" class="t tk" text-anchor="middle">0.4</text>
<line x1="434.56" y1="312.3" x2="434.56" y2="314" stroke="#333" stroke-width="0.6"/>
<text x="434.66" y="319.1" font-size="5.0" class="t tk" text-anchor="middle">0.6</text>
<line x1="471.58" y1="312.3" x2="471.58" y2="314" stroke="#333" stroke-width="0.6"/>
<text x="471.68" y="319.1" font-size="5.0" class="t tk" text-anchor="middle">0.8</text>
<line x1="508.60" y1="312.3" x2="508.60" y2="314" stroke="#333" stroke-width="0.6"/>
<text x="508.70" y="319.1" font-size="5.0" class="t tk" text-anchor="middle">1.0</text>
<text x="416" y="325.6" font-size="4.95" class="ta2" text-anchor="middle">Recall</text>
<text transform="translate(298.8,250.2) rotate(-90)" font-size="4.95" class="ta2" text-anchor="middle">Precision</text>
<path d="M323.40,276.00 L331.70,220.40 L333.30,224.70 L339.00,204.50 L340.40,230.00 L348.20,214.30 L349.20,234.00 L355.20,228.20 L357.30,251.80 L364.90,245.70 L366.40,255.60 L372.60,252.60 L374.40,257.90 L381.80,256.40 L383.00,259.50 L387.70,256.50 L391.40,261.10 L397.80,258.30 L400.60,262.00 L406.00,261.00 L407.90,266.60 L415.20,265.70 L417.10,269.30 L420.00,268.80 L423.50,268.80 L424.70,273.50 L431.80,274.70 L433.00,277.00 L441.20,277.00 L442.40,279.40 L450.60,279.40 L451.80,283.00 L458.80,283.00 L460.00,285.30 L468.20,285.30 L469.40,287.60 L482.40,287.60 L483.50,289.50 L490.60,289.50 L498.80,290.00 L500.00,293.50 L508.20,293.50" fill="none" stroke="#1f77b4" stroke-width="1.0" stroke-opacity="0.88" stroke-linejoin="round"/>
<path d="M323.40,245.20 L331.20,193.30 L333.00,264.70 L338.70,250.70 L340.60,273.00 L347.80,261.00 L349.40,266.00 L355.70,266.50 L357.30,277.30 L364.80,272.40 L366.40,281.00 L371.30,281.50 L373.90,284.70 L380.30,283.10 L383.00,286.30 L388.40,284.70 L391.40,288.00 L397.80,284.90 L400.60,288.00 L406.00,287.50 L407.90,289.50 L415.20,289.00 L417.10,290.00 L422.60,288.50 L424.40,289.50 L431.00,289.30 L432.50,290.60 L441.20,290.40 L442.40,291.50 L450.60,291.30 L451.80,292.40 L468.20,292.30 L469.40,293.50 L482.40,293.40 L483.50,295.90 L490.60,295.80 L491.80,297.00 L498.80,297.00 L500.00,300.60 L508.20,300.60" fill="none" stroke="#ff7f0e" stroke-width="1.0" stroke-opacity="0.88" stroke-linejoin="round"/>
<path d="M323.40,306.80 L330.80,242.90 L332.80,252.90 L338.20,240.00 L348.00,222.90 L349.80,257.20 L355.90,249.60 L357.30,263.90 L364.80,259.10 L366.40,265.00 L372.30,261.70 L373.90,269.80 L380.30,266.60 L382.00,268.70 L386.20,266.00 L387.80,268.20 L391.40,268.40 L397.80,265.70 L400.60,269.30 L406.00,267.50 L407.90,272.10 L415.20,270.20 L417.10,273.90 L423.50,273.00 L425.00,277.00 L431.80,275.00 L434.10,279.00 L442.40,278.00 L443.50,280.60 L453.00,279.40 L454.10,283.00 L463.50,280.60 L464.70,284.10 L476.50,284.10 L477.60,286.50 L482.40,285.30 L483.50,287.60 L490.60,287.60 L491.80,291.20 L498.80,290.50 L500.00,294.70 L508.20,294.70" fill="none" stroke="#2ca02c" stroke-width="1.0" stroke-opacity="0.88" stroke-linejoin="round"/>
<path d="M323.40,245.20 L330.80,204.50 L332.50,242.20 L338.40,232.00 L340.40,274.50 L347.80,265.20 L349.40,271.10 L355.70,265.50 L357.30,271.90 L364.80,266.60 L366.40,275.60 L372.30,271.90 L373.90,276.20 L380.30,273.50 L383.00,277.80 L388.40,274.60 L391.60,279.50 L397.80,277.50 L400.60,280.30 L406.00,279.50 L407.90,282.10 L415.20,281.50 L417.10,283.00 L422.60,281.50 L424.40,283.50 L431.70,283.00 L433.60,285.00 L440.50,284.80 L441.80,287.00 L450.60,286.80 L451.80,288.50 L458.80,288.30 L460.00,290.00 L468.20,289.80 L469.40,291.50 L482.40,291.50 L483.50,293.20 L498.80,293.20 L500.00,294.50 L508.20,294.50" fill="none" stroke="#d62728" stroke-width="1.0" stroke-opacity="0.88" stroke-linejoin="round"/>
<rect x="314.45" y="188.35" width="203.25" height="123.85" fill="none" stroke="#5e5e5e" stroke-width="0.95"/>
<rect x="408.4" y="190.5" width="107.2" height="27.6" rx="1" fill="#fff" fill-opacity="0.85" stroke="#d8d8d8" stroke-width="0.5"/>
<line x1="409.6" y1="193.80" x2="419.6" y2="193.80" stroke="#1f77b4" stroke-width="0.9" stroke-opacity="0.75"/>
<text x="423" y="195.60" font-size="5.1" class="t" font-family="Liberation Sans, sans-serif">ExtraTrees (AUC = 0.13 ± 0.06)</text>
<line x1="409.6" y1="200.57" x2="419.6" y2="200.57" stroke="#ff7f0e" stroke-width="0.9" stroke-opacity="0.75"/>
<text x="423" y="202.37" font-size="5.1" class="t" font-family="Liberation Sans, sans-serif">RandomForest (AUC = 0.08 ± 0.03)</text>
<line x1="409.6" y1="207.34" x2="419.6" y2="207.34" stroke="#2ca02c" stroke-width="0.9" stroke-opacity="0.75"/>
<text x="423" y="209.14" font-size="5.1" class="t" font-family="Liberation Sans, sans-serif">SVM (AUC = 0.11 ± 0.04)</text>
<line x1="409.6" y1="214.11" x2="419.6" y2="214.11" stroke="#d62728" stroke-width="0.9" stroke-opacity="0.75"/>
<text x="423" y="215.91" font-size="5.1" class="t" font-family="Liberation Sans, sans-serif">LogisticRegression (AUC = 0.09 ± 0.05)</text>
</g>
</svg>
</body></html>
